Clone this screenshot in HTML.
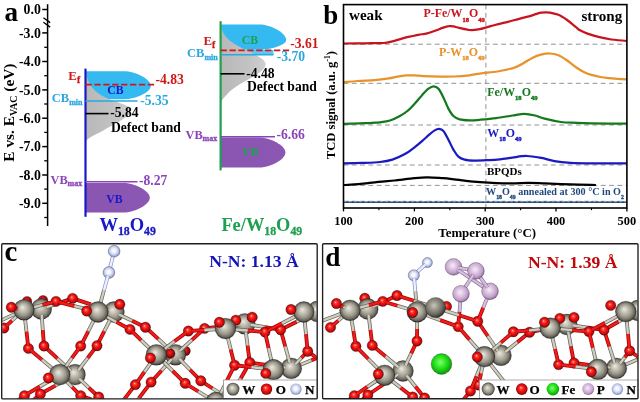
<!DOCTYPE html>
<html><head><meta charset="utf-8"><title>figure</title>
<style>
html,body{margin:0;padding:0;background:#fff;}
body{width:640px;height:402px;overflow:hidden;font-family:"Liberation Serif",serif;}
svg{display:block;filter:blur(0.35px);}
svg text{font-family:"Liberation Serif",serif;font-weight:bold;}
</style></head><body>
<svg width="640" height="402" viewBox="0 0 640 402">
<defs>
<radialGradient id="gW" cx="50%" cy="50%" r="52%" fx="42%" fy="38%"><stop offset="0" stop-color="#ecebe1"/><stop offset="0.28" stop-color="#c8c5b8"/><stop offset="0.6" stop-color="#9c998c"/><stop offset="0.84" stop-color="#67645c"/><stop offset="1" stop-color="#1f1d1a"/></radialGradient>
<radialGradient id="gWd" cx="42%" cy="40%" r="62%"><stop offset="0" stop-color="#c9c7be"/><stop offset="0.35" stop-color="#98958a"/><stop offset="0.7" stop-color="#6b685f"/><stop offset="1" stop-color="#2a2824"/></radialGradient>
<radialGradient id="gO" cx="50%" cy="50%" r="52%" fx="41%" fy="37%"><stop offset="0" stop-color="#ffd0c4"/><stop offset="0.18" stop-color="#ff5045"/><stop offset="0.5" stop-color="#f01212"/><stop offset="0.8" stop-color="#c20808"/><stop offset="1" stop-color="#5c0000"/></radialGradient>
<radialGradient id="gOd" cx="44%" cy="41%" r="60%"><stop offset="0" stop-color="#e03028"/><stop offset="0.5" stop-color="#c00c0c"/><stop offset="1" stop-color="#5a0000"/></radialGradient>
<radialGradient id="gN" cx="48%" cy="46%" r="56%"><stop offset="0" stop-color="#ffffff"/><stop offset="0.3" stop-color="#f2f4ff"/><stop offset="0.62" stop-color="#c6ceef"/><stop offset="0.88" stop-color="#929ccf"/><stop offset="1" stop-color="#6c76ae"/></radialGradient>
<radialGradient id="gP" cx="45%" cy="42%" r="60%"><stop offset="0" stop-color="#f6ecf7"/><stop offset="0.4" stop-color="#dcc2e2"/><stop offset="0.75" stop-color="#bf9cc8"/><stop offset="1" stop-color="#7c5f88"/></radialGradient>
<radialGradient id="gFe" cx="45%" cy="42%" r="62%"><stop offset="0" stop-color="#7dff6e"/><stop offset="0.5" stop-color="#22e018"/><stop offset="1" stop-color="#0a8a08"/></radialGradient>
<linearGradient id="gCB" x1="0" y1="0" x2="1" y2="0"><stop offset="0" stop-color="#34b9f0"/><stop offset="1" stop-color="#34b9f0"/></linearGradient>
<linearGradient id="gDef" x1="0" y1="0" x2="1" y2="0"><stop offset="0" stop-color="#b8b8b8"/><stop offset="0.6" stop-color="#c2c2c2"/><stop offset="1" stop-color="#d0d0d0"/></linearGradient>
<linearGradient id="gVB" x1="0" y1="0" x2="1" y2="0"><stop offset="0" stop-color="#8b55b2"/><stop offset="1" stop-color="#8c56b3"/></linearGradient>
<clipPath id="clipC"><rect x="2.2" y="244.2" width="314.5" height="154.2"/></clipPath>
<clipPath id="clipD"><rect x="323.1" y="244.2" width="314.4" height="154"/></clipPath>
</defs>
<text x="4.4" y="21.2" font-size="27.2" fill="#000" stroke="#000" stroke-width="0" text-anchor="start" >a</text>
<path d="M47.6,4.2 V226" stroke="#000" stroke-width="1.5" fill="none"/>
<path d="M43.4,17.7 L50.2,22.6 M43.4,22.2 L50.2,27.1" stroke="#000" stroke-width="1.3"/>
<path d="M42.2,9.5 H47.6" stroke="#000" stroke-width="1.5"/>
<text x="40.8" y="14.1" font-size="13.8" fill="#000" stroke="#000" stroke-width="0" text-anchor="end" >0.0</text>
<path d="M42.2,32.9 H47.6" stroke="#000" stroke-width="1.5"/>
<text x="40.8" y="37.5" font-size="13.8" fill="#000" stroke="#000" stroke-width="0" text-anchor="end" >-3.0</text>
<path d="M42.2,61.5 H47.6" stroke="#000" stroke-width="1.5"/>
<text x="40.8" y="66.1" font-size="13.8" fill="#000" stroke="#000" stroke-width="0" text-anchor="end" >-4.0</text>
<path d="M42.2,89.9 H47.6" stroke="#000" stroke-width="1.5"/>
<text x="40.8" y="94.5" font-size="13.8" fill="#000" stroke="#000" stroke-width="0" text-anchor="end" >-5.0</text>
<path d="M42.2,118.2 H47.6" stroke="#000" stroke-width="1.5"/>
<text x="40.8" y="122.8" font-size="13.8" fill="#000" stroke="#000" stroke-width="0" text-anchor="end" >-6.0</text>
<path d="M42.2,146.6 H47.6" stroke="#000" stroke-width="1.5"/>
<text x="40.8" y="151.2" font-size="13.8" fill="#000" stroke="#000" stroke-width="0" text-anchor="end" >-7.0</text>
<path d="M42.2,175.0 H47.6" stroke="#000" stroke-width="1.5"/>
<text x="40.8" y="179.6" font-size="13.8" fill="#000" stroke="#000" stroke-width="0" text-anchor="end" >-8.0</text>
<path d="M42.2,203.3 H47.6" stroke="#000" stroke-width="1.5"/>
<text x="40.8" y="207.9" font-size="13.8" fill="#000" stroke="#000" stroke-width="0" text-anchor="end" >-9.0</text>
<path d="M44.2,47.3 H47.6" stroke="#000" stroke-width="1.3"/>
<path d="M44.2,75.7 H47.6" stroke="#000" stroke-width="1.3"/>
<path d="M44.2,104.0 H47.6" stroke="#000" stroke-width="1.3"/>
<path d="M44.2,132.4 H47.6" stroke="#000" stroke-width="1.3"/>
<path d="M44.2,160.8 H47.6" stroke="#000" stroke-width="1.3"/>
<path d="M44.2,189.1 H47.6" stroke="#000" stroke-width="1.3"/>
<path d="M44.2,217.5 H47.6" stroke="#000" stroke-width="1.3"/>
<text transform="translate(13.8,112.6) rotate(-90)" font-size="15.4" text-anchor="middle" fill="#000">E vs. E<tspan font-size="10" dy="3" stroke-width="0.3">VAC</tspan><tspan dy="-3" font-size="10">&#8203;</tspan> (eV)</text>
<path d="M85.5,71.2 L124.0,71.2 C135.3,71.2 150.8,78.9 150.8,86.0 C150.8,92.4 135.3,99.2 124.0,99.2 L85.5,99.2 Z" fill="url(#gCB)"/>
<path d="M85.5,72 L86.1,72.0 L86.3,73.0 L86.4,74.0 L86.6,75.0 L86.8,76.0 L87.0,77.0 L87.3,78.0 L87.6,79.0 L88.0,80.0 L88.4,81.0 L88.8,82.0 L89.3,83.0 L89.9,84.0 L90.5,85.0 L91.1,86.0 L91.8,87.0 L92.6,88.0 L93.5,89.0 L94.4,90.0 L95.4,91.0 L96.6,92.0 L97.8,93.0 L99.2,94.0 L100.8,95.0 L102.5,96.0 L104.4,97.0 L106.6,98.0 L108.9,99.0 L111.5,100.0 L114.2,101.0 L117.0,102.0 L119.9,103.0 L122.6,104.0 L125.2,105.0 L127.4,106.0 L129.2,107.0 L130.5,108.0 L131.1,109.0 L131.2,110.0 L131.0,111.0 L130.6,112.0 L130.0,113.0 L129.3,114.0 L128.3,115.0 L127.3,116.0 L126.0,117.0 L124.7,118.0 L123.2,119.0 L121.6,120.0 L120.0,121.0 L118.2,122.0 L116.5,123.0 L114.7,124.0 L112.9,125.0 L111.0,126.0 L109.3,127.0 L107.5,128.0 L105.8,129.0 L104.1,130.0 L102.5,131.0 L100.8,132.0 L98.7,133.0 L96.6,134.0 L94.5,135.0 L92.6,136.0 L90.9,137.0 L89.3,138.0 L88.0,139.0 L86.9,140.0 L85.9,141.0 L85.5,142.0 L85.5,142 Z" fill="url(#gDef)"/>
<path d="M85.5,183.0 L123.4,183.0 C134.5,183.0 149.8,190.7 149.8,197.8 C149.8,204.9 134.5,212.6 123.4,212.6 L85.5,212.6 Z" fill="url(#gVB)"/>
<path d="M85.5,68.6 V216.8" stroke="#1818c8" stroke-width="2.2"/>
<path d="M85.5,84.6 H156" stroke="#d01818" stroke-width="1.8" stroke-dasharray="6.3,2.6"/>
<text x="155.5" y="83.6" font-size="13.6" fill="#d01818" stroke="#d01818" stroke-width="0" text-anchor="start" >-4.83</text>
<text x="68.3" y="80" font-size="12.9" fill="#d01818" stroke="#d01818" stroke-width="0" text-anchor="start" >E<tspan font-size="9.6" dy="2.8" stroke-width="0.3">f</tspan><tspan dy="-2.8" font-size="9.6">&#8203;</tspan></text>
<text x="107.3" y="94" font-size="11.7" fill="#1818c8" stroke="#1818c8" stroke-width="0" text-anchor="start" >CB</text>
<path d="M85.5,101 H137.5" stroke="#2aa8e0" stroke-width="1.6"/>
<text x="140.3" y="104.6" font-size="13.6" fill="#2aa8e0" stroke="#2aa8e0" stroke-width="0" text-anchor="start" >-5.35</text>
<text x="51.8" y="102.4" font-size="12.5" fill="#2aa8e0" stroke="#2aa8e0" stroke-width="0" text-anchor="start" >CB<tspan font-size="8" dy="2.5" stroke-width="0.3">min</tspan><tspan dy="-2.5" font-size="8">&#8203;</tspan></text>
<path d="M85.5,113.6 H108.5" stroke="#000" stroke-width="1.6"/>
<text x="110.3" y="117.3" font-size="13.6" fill="#000" stroke="#000" stroke-width="0" text-anchor="start" >-5.84</text>
<text x="111" y="131.7" font-size="13.6" fill="#000" stroke="#000" stroke-width="0" text-anchor="start" >Defect band</text>
<path d="M85.5,181.8 H137.5" stroke="#8a44b8" stroke-width="1.6"/>
<text x="139" y="185" font-size="13.6" fill="#8a44b8" stroke="#8a44b8" stroke-width="0" text-anchor="start" >-8.27</text>
<text x="50.5" y="183.6" font-size="12.3" fill="#8a44b8" stroke="#8a44b8" stroke-width="0" text-anchor="start" >VB<tspan font-size="8" dy="2.5" stroke-width="0.3">max</tspan><tspan dy="-2.5" font-size="8">&#8203;</tspan></text>
<text x="106.3" y="202.5" font-size="11.7" fill="#1818c8" stroke="#1818c8" stroke-width="0" text-anchor="start" >VB</text>
<text x="99.4" y="231" font-size="18.5" fill="#1818c8" stroke="#1818c8" stroke-width="0" text-anchor="start" >W<tspan font-size="11.8" dy="4" stroke-width="0.3">18</tspan><tspan dy="-4" font-size="11.8">&#8203;</tspan>O<tspan font-size="11.8" dy="4" stroke-width="0.3">49</tspan><tspan dy="-4" font-size="11.8">&#8203;</tspan></text>
<path d="M240,50 L273.5,50 L273.5,54.8 L240,54.8 Z" fill="#4cc0f2" opacity="0.9"/>
<path d="M220.6,24.6 L259.3,24.6 C270.6,24.6 286.2,32.7 286.2,40.2 C286.2,44.8 270.6,49.8 259.3,49.8 L220.6,49.8 Z" fill="url(#gCB)"/>
<path d="M220.6,22 L220.9,22.0 L221.0,23.0 L221.1,24.0 L221.2,25.0 L221.3,26.0 L221.5,27.0 L221.7,28.0 L221.9,29.0 L222.2,30.0 L222.6,31.0 L223.0,32.0 L223.4,33.0 L224.0,34.0 L224.6,35.0 L225.3,36.0 L226.1,37.0 L227.0,38.0 L228.0,39.0 L229.1,40.0 L230.3,41.0 L231.6,42.0 L233.1,43.0 L234.6,44.0 L236.3,45.0 L238.1,46.0 L239.9,47.0 L241.8,48.0 L243.8,49.0 L245.8,50.0 L247.9,51.0 L249.9,52.0 L252.0,53.0 L253.9,54.0 L255.8,55.0 L257.6,56.0 L259.3,57.0 L260.8,58.0 L262.2,59.0 L263.3,60.0 L264.2,61.0 L264.9,62.0 L265.4,63.0 L265.6,64.0 L265.6,65.0 L265.3,66.0 L264.9,67.0 L264.3,68.0 L263.5,69.0 L262.6,70.0 L261.5,71.0 L260.2,72.0 L258.9,73.0 L257.4,74.0 L255.8,75.0 L254.2,76.0 L252.5,77.0 L250.7,78.0 L249.0,79.0 L247.2,80.0 L245.4,81.0 L243.6,82.0 L241.9,83.0 L240.2,84.0 L238.6,85.0 L237.1,86.0 L235.6,87.0 L234.2,88.0 L232.8,89.0 L231.6,90.0 L230.4,91.0 L229.3,92.0 L228.3,93.0 L227.4,94.0 L226.5,95.0 L225.5,96.0 L224.5,97.0 L223.7,98.0 L222.9,99.0 L222.3,100.0 L221.7,101.0 L221.3,102.0 L220.9,103.0 L220.7,104.0 L220.6,104 Z" fill="url(#gDef)"/>
<path d="M220.6,137.6 L258.8,137.6 C270.0,137.6 285.4,145.4 285.4,152.6 C285.4,159.8 270.0,167.6 258.8,167.6 L220.6,167.6 Z" fill="url(#gVB)"/>
<path d="M220.6,21.2 V170.4" stroke="#1ea050" stroke-width="2.2"/>
<path d="M220.6,50.4 H291.5" stroke="#d01818" stroke-width="1.8" stroke-dasharray="6.3,2.6"/>
<text x="290.2" y="48.3" font-size="13.6" fill="#d01818" stroke="#d01818" stroke-width="0" text-anchor="start" >-3.61</text>
<text x="203.5" y="45" font-size="12.9" fill="#d01818" stroke="#d01818" stroke-width="0" text-anchor="start" >E<tspan font-size="9.6" dy="2.8" stroke-width="0.3">f</tspan><tspan dy="-2.8" font-size="9.6">&#8203;</tspan></text>
<text x="241.8" y="43.7" font-size="11.7" fill="#1ea050" stroke="#1ea050" stroke-width="0" text-anchor="start" >CB</text>
<path d="M220.6,54.8 H273.5" stroke="#2aa8e0" stroke-width="1.6"/>
<text x="276.7" y="60.6" font-size="13.6" fill="#2aa8e0" stroke="#2aa8e0" stroke-width="0" text-anchor="start" >-3.70</text>
<text x="187" y="57" font-size="12.5" fill="#2aa8e0" stroke="#2aa8e0" stroke-width="0" text-anchor="start" >CB<tspan font-size="8" dy="2.5" stroke-width="0.3">min</tspan><tspan dy="-2.5" font-size="8">&#8203;</tspan></text>
<path d="M220.6,73.8 H244.5" stroke="#000" stroke-width="1.6"/>
<text x="246.3" y="78.2" font-size="13.6" fill="#000" stroke="#000" stroke-width="0" text-anchor="start" >-4.48</text>
<text x="247" y="91.4" font-size="13.6" fill="#000" stroke="#000" stroke-width="0" text-anchor="start" >Defect band</text>
<path d="M220.6,136.7 H275" stroke="#8a44b8" stroke-width="1.6"/>
<text x="276.5" y="139.3" font-size="13.6" fill="#8a44b8" stroke="#8a44b8" stroke-width="0" text-anchor="start" >-6.66</text>
<text x="185.5" y="138.6" font-size="12.3" fill="#8a44b8" stroke="#8a44b8" stroke-width="0" text-anchor="start" >VB<tspan font-size="8" dy="2.5" stroke-width="0.3">max</tspan><tspan dy="-2.5" font-size="8">&#8203;</tspan></text>
<text x="242" y="156.4" font-size="11.7" fill="#1ea050" stroke="#1ea050" stroke-width="0" text-anchor="start" >VB</text>
<text x="221.4" y="231.2" font-size="18.4" fill="#1ea050" stroke="#1ea050" stroke-width="0" text-anchor="start" >Fe/W<tspan font-size="11.8" dy="4" stroke-width="0.3">18</tspan><tspan dy="-4" font-size="11.8">&#8203;</tspan>O<tspan font-size="11.8" dy="4" stroke-width="0.3">49</tspan><tspan dy="-4" font-size="11.8">&#8203;</tspan></text>
<text x="323.3" y="23.7" font-size="27" fill="#000" stroke="#000" stroke-width="0" text-anchor="start" >b</text>
<path d="M343.5,44.2 H626.9" stroke="#929292" stroke-width="1" stroke-dasharray="4.8,3.5"/>
<path d="M343.5,83.3 H626.9" stroke="#929292" stroke-width="1" stroke-dasharray="4.8,3.5"/>
<path d="M343.5,125.0 H626.9" stroke="#929292" stroke-width="1" stroke-dasharray="4.8,3.5"/>
<path d="M343.5,165.0 H626.9" stroke="#929292" stroke-width="1" stroke-dasharray="4.8,3.5"/>
<path d="M343.5,185.4 H626.9" stroke="#929292" stroke-width="1" stroke-dasharray="4.8,3.5"/>
<path d="M343.5,201.3 H626.9" stroke="#929292" stroke-width="1" stroke-dasharray="4.8,3.5"/>
<path d="M485.9,4.6 V208.0" stroke="#929292" stroke-width="1" stroke-dasharray="4.8,3.5"/>
<path d="M343.5,202.1 H626.9" stroke="#1f497d" stroke-width="1.9" fill="none"/>
<path transform="translate(0,0.6)" d="M343.5,184.4 C346.1,184.2 353.0,184.0 358.8,183.5 C364.6,183.0 372.4,181.8 378.3,181.2 C384.2,180.6 389.0,180.4 394.4,179.9 C399.8,179.4 405.2,178.5 410.6,178.0 C416.0,177.5 421.4,176.8 426.8,176.7 C432.2,176.6 437.6,177.2 443.0,177.6 C448.4,178.0 453.0,178.7 459.2,179.3 C465.4,180.0 473.8,181.0 480.0,181.5 C486.2,182.0 490.8,182.3 496.2,182.5 C501.6,182.7 507.0,182.9 512.4,182.8 C517.8,182.8 523.1,182.2 528.5,182.2 C533.9,182.2 537.7,182.5 544.7,182.8 C551.7,183.1 562.1,183.5 570.6,183.8 C579.1,184.1 591.7,184.3 595.9,184.4" stroke="#000" stroke-width="2.25" fill="none"/>
<path d="M343.5,163.4 C346.6,163.3 355.9,163.1 362.0,162.9 C368.1,162.7 374.9,162.6 380.0,162.0 C385.1,161.4 388.2,160.9 392.4,159.6 C396.5,158.3 401.2,156.2 404.9,154.1 C408.6,152.0 411.9,149.3 414.8,147.1 C417.7,144.9 419.8,143.1 422.3,140.9 C424.8,138.8 427.7,135.9 429.8,134.2 C431.9,132.4 433.2,131.3 434.7,130.4 C436.2,129.5 437.6,128.8 439.0,128.9 C440.4,129.0 441.8,129.2 443.4,131.0 C445.0,132.8 446.7,136.6 448.4,139.7 C450.1,142.8 451.7,146.8 453.4,149.6 C455.1,152.4 456.5,154.9 458.4,156.6 C460.3,158.3 461.9,158.9 464.6,159.6 C467.3,160.3 470.4,160.5 474.5,160.6 C478.6,160.7 485.2,160.3 489.5,160.1 C493.8,159.9 496.2,159.7 500.0,159.3 C503.8,158.9 507.9,158.2 512.4,157.6 C516.9,157.0 522.0,155.9 526.9,156.0 C531.8,156.1 536.9,157.1 541.5,157.9 C546.1,158.8 549.5,160.3 554.4,161.1 C559.2,161.9 564.1,162.4 570.6,162.8 C577.1,163.2 583.9,163.3 593.3,163.4 C602.7,163.5 621.3,163.4 626.9,163.4" stroke="#1a1ac0" stroke-width="2.25" fill="none"/>
<path d="M343.5,123.9 C346.2,123.8 355.2,123.5 360.0,123.3 C364.8,123.1 368.7,123.0 372.0,122.8 C375.3,122.6 377.0,122.7 380.0,122.3 C383.0,121.9 386.7,121.5 390.0,120.5 C393.3,119.5 397.0,117.6 399.9,116.0 C402.8,114.4 404.9,113.1 407.4,111.0 C409.9,108.9 412.3,106.3 414.8,103.6 C417.3,100.9 420.0,97.4 422.3,94.9 C424.6,92.4 426.6,90.1 428.5,88.7 C430.4,87.3 431.8,86.3 433.5,86.3 C435.2,86.3 436.9,86.8 438.5,88.7 C440.1,90.6 441.8,94.1 443.4,97.4 C445.0,100.7 446.7,105.5 448.4,108.6 C450.1,111.7 451.5,114.2 453.4,116.0 C455.3,117.8 456.9,118.6 459.6,119.3 C462.3,120.0 466.3,120.2 469.6,120.3 C472.9,120.4 475.1,120.2 479.5,119.8 C483.9,119.4 490.7,118.8 496.2,118.1 C501.7,117.4 507.7,116.2 512.4,115.5 C517.1,114.8 520.5,113.9 524.3,113.9 C528.1,113.9 531.6,114.7 535.0,115.5 C538.4,116.3 540.4,117.6 544.7,118.7 C549.0,119.8 555.5,121.3 560.9,122.0 C566.3,122.7 568.9,122.6 577.0,122.9 C585.1,123.2 601.1,123.5 609.4,123.6 C617.7,123.7 624.0,123.6 626.9,123.6" stroke="#14781e" stroke-width="2.25" fill="none"/>
<path d="M343.5,82.3 C345.8,82.1 352.2,81.4 357.4,81.0 C362.6,80.6 369.6,80.5 374.8,80.1 C380.0,79.7 385.0,79.0 388.8,78.4 C392.6,77.8 394.6,77.1 397.5,76.6 C400.4,76.1 403.4,75.6 406.2,75.4 C408.9,75.2 411.1,75.3 414.0,75.4 C416.9,75.5 419.3,75.9 423.6,76.1 C427.9,76.3 434.9,76.5 440.0,76.6 C445.1,76.7 449.4,76.7 454.3,76.5 C459.2,76.3 465.0,75.8 469.3,75.3 C473.6,74.8 475.3,74.2 480.0,73.6 C484.7,73.0 493.1,72.1 497.4,71.5 C501.7,70.9 503.1,70.5 506.0,69.8 C508.9,69.1 511.9,68.6 514.8,67.5 C517.7,66.4 520.7,64.7 523.6,63.1 C526.5,61.5 529.4,59.3 532.3,57.9 C535.2,56.5 538.1,55.4 541.0,54.7 C543.9,54.0 546.8,53.4 549.7,53.5 C552.6,53.6 555.5,54.1 558.4,55.3 C561.3,56.5 564.2,58.5 567.1,60.5 C570.0,62.5 573.1,65.2 576.0,67.2 C578.9,69.2 581.6,71.0 584.3,72.3 C587.0,73.6 589.6,74.4 592.3,75.2 C595.0,76.0 597.7,76.5 600.4,77.0 C603.1,77.5 605.7,77.8 608.5,78.1 C611.3,78.4 614.2,78.6 617.3,78.8 C620.4,79.0 625.3,79.3 626.9,79.4" stroke="#e8922a" stroke-width="2.25" fill="none"/>
<path d="M343.5,43.5 C347.1,43.5 358.1,43.4 364.8,43.3 C371.5,43.2 379.0,43.3 383.6,43.0 C388.2,42.7 389.4,42.0 392.3,41.3 C395.2,40.6 398.1,39.6 401.0,38.8 C403.9,38.0 406.8,37.2 409.7,36.6 C412.6,36.0 415.5,35.5 418.4,34.9 C421.3,34.3 424.2,34.0 427.1,33.3 C430.0,32.6 433.2,31.4 435.8,30.5 C438.4,29.6 440.2,28.6 442.4,27.9 C444.6,27.2 446.9,26.4 448.8,26.2 C450.7,25.9 451.8,26.1 453.5,26.4 C455.2,26.7 456.5,27.3 459.2,27.9 C461.9,28.5 466.5,29.8 469.7,30.0 C472.9,30.2 474.9,30.0 478.4,29.4 C481.9,28.8 487.4,27.0 490.6,26.2 C493.8,25.4 494.8,25.0 497.4,24.4 C500.0,23.8 503.1,23.0 506.0,22.3 C508.9,21.6 511.9,20.8 514.8,20.0 C517.7,19.2 520.7,18.5 523.6,17.7 C526.5,16.9 529.9,16.0 532.3,15.3 C534.7,14.6 536.5,13.9 538.0,13.4 C539.5,12.9 540.2,12.8 541.5,12.6 C542.8,12.4 544.6,12.3 546.0,12.3 C547.4,12.3 547.9,12.3 550.0,12.7 C552.1,13.1 555.5,13.6 558.4,14.8 C561.2,16.0 564.2,18.0 567.1,20.0 C570.0,22.0 573.6,25.3 575.8,27.0 C577.9,28.7 578.0,29.1 580.0,30.2 C582.0,31.3 584.3,32.4 587.5,33.6 C590.7,34.8 595.4,36.2 599.4,37.2 C603.4,38.2 606.7,38.9 611.3,39.5 C615.9,40.1 624.3,40.8 626.9,41.0" stroke="#c8141e" stroke-width="2.25" fill="none"/>
<path d="M343.5,201.7 H626.9" stroke="#c4ccd8" stroke-width="0.7" stroke-dasharray="3,2.2"/>
<rect x="343.5" y="4.6" width="283.4" height="203.4" fill="none" stroke="#000" stroke-width="1.6"/>
<path d="M343.5,208.0 v3.4" stroke="#000" stroke-width="1.3"/>
<text x="343.5" y="224.7" font-size="12.4" fill="#000" stroke="#000" stroke-width="0" text-anchor="middle" >100</text>
<path d="M414.4,208.0 v3.4" stroke="#000" stroke-width="1.3"/>
<text x="414.4" y="224.7" font-size="12.4" fill="#000" stroke="#000" stroke-width="0" text-anchor="middle" >200</text>
<path d="M485.2,208.0 v3.4" stroke="#000" stroke-width="1.3"/>
<text x="485.2" y="224.7" font-size="12.4" fill="#000" stroke="#000" stroke-width="0" text-anchor="middle" >300</text>
<path d="M556.0,208.0 v3.4" stroke="#000" stroke-width="1.3"/>
<text x="556.0" y="224.7" font-size="12.4" fill="#000" stroke="#000" stroke-width="0" text-anchor="middle" >400</text>
<path d="M626.9,208.0 v3.4" stroke="#000" stroke-width="1.3"/>
<text x="626.9" y="224.7" font-size="12.4" fill="#000" stroke="#000" stroke-width="0" text-anchor="middle" >500</text>
<path d="M378.9,208.0 v2.2" stroke="#000" stroke-width="1.1"/>
<path d="M449.8,208.0 v2.2" stroke="#000" stroke-width="1.1"/>
<path d="M520.6,208.0 v2.2" stroke="#000" stroke-width="1.1"/>
<path d="M591.5,208.0 v2.2" stroke="#000" stroke-width="1.1"/>
<text x="487.2" y="237.3" font-size="12.9" fill="#000" stroke="#000" stroke-width="0" text-anchor="middle" >Temperature (&#176;C)</text>
<text transform="translate(334.8,105.2) rotate(-90)" font-size="12.6" text-anchor="middle" fill="#000">TCD signal (a.u. g<tspan font-size="7.5" dy="-5" stroke-width="0.3">-1</tspan><tspan dy="5" font-size="7.5">&#8203;</tspan>)</text>
<text x="349" y="20.2" font-size="15.1" fill="#000" stroke="#000" stroke-width="0" text-anchor="start" >weak</text>
<text x="622.3" y="20.5" font-size="15.1" fill="#000" stroke="#000" stroke-width="0" text-anchor="end" >strong</text>
<text x="423.5" y="17.0" font-size="11.9" fill="#c8141e" stroke="#c8141e" stroke-width="0" text-anchor="start" >P-Fe/W<tspan font-size="6.6" dy="4.6" stroke-width="0.4">18</tspan><tspan dy="-4.6" font-size="6.6">&#8203;</tspan>O<tspan font-size="6.6" dy="4.6" stroke-width="0.4">49</tspan><tspan dy="-4.6" font-size="6.6">&#8203;</tspan></text>
<text x="439" y="55.6" font-size="11.9" fill="#e8922a" stroke="#e8922a" stroke-width="0" text-anchor="start" >P-W<tspan font-size="6.6" dy="4.6" stroke-width="0.4">18</tspan><tspan dy="-4.6" font-size="6.6">&#8203;</tspan>O<tspan font-size="6.6" dy="4.6" stroke-width="0.4">49</tspan><tspan dy="-4.6" font-size="6.6">&#8203;</tspan></text>
<text x="487.3" y="95.6" font-size="11.9" fill="#14781e" stroke="#14781e" stroke-width="0" text-anchor="start" >Fe/W<tspan font-size="6.6" dy="4.6" stroke-width="0.4">18</tspan><tspan dy="-4.6" font-size="6.6">&#8203;</tspan>O<tspan font-size="6.6" dy="4.6" stroke-width="0.4">49</tspan><tspan dy="-4.6" font-size="6.6">&#8203;</tspan></text>
<text x="487.3" y="136.6" font-size="11.9" fill="#1a1ac0" stroke="#1a1ac0" stroke-width="0" text-anchor="start" >W<tspan font-size="6.6" dy="4.6" stroke-width="0.4">18</tspan><tspan dy="-4.6" font-size="6.6">&#8203;</tspan>O<tspan font-size="6.6" dy="4.6" stroke-width="0.4">49</tspan><tspan dy="-4.6" font-size="6.6">&#8203;</tspan></text>
<text x="487" y="175.4" font-size="11.0" fill="#000" stroke="#000" stroke-width="0" text-anchor="start" >BPQDs</text>
<text x="486" y="195.2" font-size="10.15" fill="#1f497d" stroke="#1f497d" stroke-width="0" text-anchor="start" >W<tspan font-size="5.8" dy="3.8" stroke-width="0.35">18</tspan><tspan dy="-3.8" font-size="5.8">&#8203;</tspan>O<tspan font-size="5.8" dy="3.8" stroke-width="0.35">49</tspan><tspan dy="-3.8" font-size="5.8">&#8203;</tspan> annealed at 300 &#176;C in O<tspan font-size="5.8" dy="3.8" stroke-width="0.35">2</tspan><tspan dy="-3.8" font-size="5.8">&#8203;</tspan></text>
<g clip-path="url(#clipC)">
<circle cx="43" cy="300.2" r="4.8" fill="url(#gOd)" stroke="#1a1815" stroke-opacity="0.45" stroke-width="0.6"/>
<g fill="none" stroke-linecap="butt"><path d="M291.3,368.4 L311.5,360.3" stroke="#6a665c" stroke-width="3.8"/><path d="M311.5,360.3 L322.0,356.0" stroke="#9c0606" stroke-width="3.8"/><path d="M291.3,368.4 L311.5,360.3" stroke="#cfccc0" stroke-width="2.3"/><path d="M311.5,360.3 L322.0,356.0" stroke="#f41a1a" stroke-width="2.3"/></g>
<circle cx="185.6" cy="351" r="4.8" fill="url(#gOd)" stroke="#1a1815" stroke-opacity="0.45" stroke-width="0.6"/>
<circle cx="27" cy="301.2" r="4.8" fill="url(#gOd)" stroke="#1a1815" stroke-opacity="0.45" stroke-width="0.6"/>
<g fill="none" stroke-linecap="butt"><path d="M24.5,395.6 L12.7,404.3" stroke="#9c0606" stroke-width="3.8"/><path d="M12.7,404.3 L5.0,410.0" stroke="#6a665c" stroke-width="3.8"/><path d="M24.5,395.6 L12.7,404.3" stroke="#f41a1a" stroke-width="2.3"/><path d="M12.7,404.3 L5.0,410.0" stroke="#cfccc0" stroke-width="2.3"/></g>
<g fill="none" stroke-linecap="butt"><path d="M40.4,394.0 L29.2,403.7" stroke="#9c0606" stroke-width="3.8"/><path d="M29.2,403.7 L22.0,410.0" stroke="#6a665c" stroke-width="3.8"/><path d="M40.4,394.0 L29.2,403.7" stroke="#f41a1a" stroke-width="2.3"/><path d="M29.2,403.7 L22.0,410.0" stroke="#cfccc0" stroke-width="2.3"/></g>
<g fill="none" stroke-linecap="butt"><path d="M80.7,395.6 L102.8,403.7" stroke="#9c0606" stroke-width="3.8"/><path d="M102.8,403.7 L120.0,410.0" stroke="#6a665c" stroke-width="3.8"/><path d="M80.7,395.6 L102.8,403.7" stroke="#f41a1a" stroke-width="2.3"/><path d="M102.8,403.7 L120.0,410.0" stroke="#cfccc0" stroke-width="2.3"/></g>
<g fill="none" stroke-linecap="butt"><path d="M98.7,397.0 L111.6,404.9" stroke="#9c0606" stroke-width="3.8"/><path d="M111.6,404.9 L120.0,410.0" stroke="#6a665c" stroke-width="3.8"/><path d="M98.7,397.0 L111.6,404.9" stroke="#f41a1a" stroke-width="2.3"/><path d="M111.6,404.9 L120.0,410.0" stroke="#cfccc0" stroke-width="2.3"/></g>
<g fill="none" stroke-linecap="butt"><path d="M135.4,384.6 L124.1,399.4" stroke="#9c0606" stroke-width="3.8"/><path d="M124.1,399.4 L116.0,410.0" stroke="#6a665c" stroke-width="3.8"/><path d="M135.4,384.6 L124.1,399.4" stroke="#f41a1a" stroke-width="2.3"/><path d="M124.1,399.4 L116.0,410.0" stroke="#cfccc0" stroke-width="2.3"/></g>
<g fill="none" stroke-linecap="butt"><path d="M151.1,382.1 L139.0,398.1" stroke="#9c0606" stroke-width="3.8"/><path d="M139.0,398.1 L130.0,410.0" stroke="#6a665c" stroke-width="3.8"/><path d="M151.1,382.1 L139.0,398.1" stroke="#f41a1a" stroke-width="2.3"/><path d="M139.0,398.1 L130.0,410.0" stroke="#cfccc0" stroke-width="2.3"/></g>
<g fill="none" stroke-linecap="butt"><path d="M307.7,351.3 L323.9,363.2" stroke="#9c0606" stroke-width="3.8"/><path d="M323.9,363.2 L336.0,372.0" stroke="#6a665c" stroke-width="3.8"/><path d="M307.7,351.3 L323.9,363.2" stroke="#f41a1a" stroke-width="2.3"/><path d="M323.9,363.2 L336.0,372.0" stroke="#cfccc0" stroke-width="2.3"/></g>
<circle cx="41.3" cy="309" r="10.4" fill="url(#gW)" stroke="#1a1815" stroke-opacity="0.45" stroke-width="0.6"/>
<circle cx="114" cy="312" r="10.4" fill="url(#gW)" stroke="#1a1815" stroke-opacity="0.45" stroke-width="0.6"/>
<circle cx="75" cy="374.7" r="10.4" fill="url(#gW)" stroke="#1a1815" stroke-opacity="0.45" stroke-width="0.6"/>
<circle cx="175.5" cy="354.8" r="10.4" fill="url(#gW)" stroke="#1a1815" stroke-opacity="0.45" stroke-width="0.6"/>
<circle cx="244.8" cy="323.8" r="10.4" fill="url(#gW)" stroke="#1a1815" stroke-opacity="0.45" stroke-width="0.6"/>
<circle cx="291.3" cy="368.4" r="10.4" fill="url(#gW)" stroke="#1a1815" stroke-opacity="0.45" stroke-width="0.6"/>
<circle cx="317.5" cy="311.5" r="10.4" fill="url(#gW)" stroke="#1a1815" stroke-opacity="0.45" stroke-width="0.6"/>
<circle cx="229" cy="399" r="10.4" fill="url(#gW)" stroke="#1a1815" stroke-opacity="0.45" stroke-width="0.6"/>
<g fill="none" stroke-linecap="butt"><path d="M46.7,307.2 L59.4,302.9" stroke="#6a665c" stroke-width="3.8"/><path d="M59.4,302.9 L72.6,298.4" stroke="#9c0606" stroke-width="3.8"/><path d="M46.7,307.2 L59.4,302.9" stroke="#cfccc0" stroke-width="2.3"/><path d="M59.4,302.9 L72.6,298.4" stroke="#f41a1a" stroke-width="2.3"/></g>
<g fill="none" stroke-linecap="butt"><path d="M72.6,298.4 L90.8,304.4" stroke="#9c0606" stroke-width="3.8"/><path d="M90.8,304.4 L108.6,310.2" stroke="#6a665c" stroke-width="3.8"/><path d="M72.6,298.4 L90.8,304.4" stroke="#f41a1a" stroke-width="2.3"/><path d="M90.8,304.4 L108.6,310.2" stroke="#cfccc0" stroke-width="2.3"/></g>
<g fill="none" stroke-linecap="butt"><path d="M41.7,314.7 L42.8,330.1" stroke="#6a665c" stroke-width="3.8"/><path d="M42.8,330.1 L44.0,346.0" stroke="#9c0606" stroke-width="3.8"/><path d="M41.7,314.7 L42.8,330.1" stroke="#cfccc0" stroke-width="2.3"/><path d="M42.8,330.1 L44.0,346.0" stroke="#f41a1a" stroke-width="2.3"/></g>
<g fill="none" stroke-linecap="butt"><path d="M44.0,346.0 L57.6,358.6" stroke="#9c0606" stroke-width="3.8"/><path d="M57.6,358.6 L70.8,370.8" stroke="#6a665c" stroke-width="3.8"/><path d="M44.0,346.0 L57.6,358.6" stroke="#f41a1a" stroke-width="2.3"/><path d="M57.6,358.6 L70.8,370.8" stroke="#cfccc0" stroke-width="2.3"/></g>
<g fill="none" stroke-linecap="butt"><path d="M111.4,317.1 L104.3,331.2" stroke="#6a665c" stroke-width="3.8"/><path d="M104.3,331.2 L97.0,345.7" stroke="#9c0606" stroke-width="3.8"/><path d="M111.4,317.1 L104.3,331.2" stroke="#cfccc0" stroke-width="2.3"/><path d="M104.3,331.2 L97.0,345.7" stroke="#f41a1a" stroke-width="2.3"/></g>
<g fill="none" stroke-linecap="butt"><path d="M97.0,345.7 L87.6,358.1" stroke="#9c0606" stroke-width="3.8"/><path d="M87.6,358.1 L78.5,370.1" stroke="#6a665c" stroke-width="3.8"/><path d="M97.0,345.7 L87.6,358.1" stroke="#f41a1a" stroke-width="2.3"/><path d="M87.6,358.1 L78.5,370.1" stroke="#cfccc0" stroke-width="2.3"/></g>
<g fill="none" stroke-linecap="butt"><path d="M117.4,307.4 L116.9,308.2" stroke="#6a665c" stroke-width="3.8"/><path d="M116.9,308.2 L119.8,304.3" stroke="#9c0606" stroke-width="3.8"/><path d="M117.4,307.4 L116.9,308.2" stroke="#cfccc0" stroke-width="2.3"/><path d="M116.9,308.2 L119.8,304.3" stroke="#f41a1a" stroke-width="2.3"/></g>
<g fill="none" stroke-linecap="butt"><path d="M119.1,314.5 L132.0,320.7" stroke="#6a665c" stroke-width="3.8"/><path d="M132.0,320.7 L145.4,327.2" stroke="#9c0606" stroke-width="3.8"/><path d="M119.1,314.5 L132.0,320.7" stroke="#cfccc0" stroke-width="2.3"/><path d="M132.0,320.7 L145.4,327.2" stroke="#f41a1a" stroke-width="2.3"/></g>
<g fill="none" stroke-linecap="butt"><path d="M145.4,327.2 L158.5,339.2" stroke="#9c0606" stroke-width="3.8"/><path d="M158.5,339.2 L171.3,350.9" stroke="#6a665c" stroke-width="3.8"/><path d="M145.4,327.2 L158.5,339.2" stroke="#f41a1a" stroke-width="2.3"/><path d="M158.5,339.2 L171.3,350.9" stroke="#cfccc0" stroke-width="2.3"/></g>
<g fill="none" stroke-linecap="butt"><path d="M179.7,351.0 L192.0,339.9" stroke="#6a665c" stroke-width="3.8"/><path d="M192.0,339.9 L204.6,328.4" stroke="#9c0606" stroke-width="3.8"/><path d="M179.7,351.0 L192.0,339.9" stroke="#cfccc0" stroke-width="2.3"/><path d="M192.0,339.9 L204.6,328.4" stroke="#f41a1a" stroke-width="2.3"/></g>
<g fill="none" stroke-linecap="butt"><path d="M204.6,328.4 L222.1,326.4" stroke="#9c0606" stroke-width="3.8"/><path d="M222.1,326.4 L239.1,324.5" stroke="#6a665c" stroke-width="3.8"/><path d="M204.6,328.4 L222.1,326.4" stroke="#f41a1a" stroke-width="2.3"/><path d="M222.1,326.4 L239.1,324.5" stroke="#cfccc0" stroke-width="2.3"/></g>
<g fill="none" stroke-linecap="butt"><path d="M70.0,377.5 L55.4,385.6" stroke="#6a665c" stroke-width="3.8"/><path d="M55.4,385.6 L40.4,394.0" stroke="#9c0606" stroke-width="3.8"/><path d="M70.0,377.5 L55.4,385.6" stroke="#cfccc0" stroke-width="2.3"/><path d="M55.4,385.6 L40.4,394.0" stroke="#f41a1a" stroke-width="2.3"/></g>
<g fill="none" stroke-linecap="butt"><path d="M79.2,378.6 L88.7,387.6" stroke="#6a665c" stroke-width="3.8"/><path d="M88.7,387.6 L98.7,397.0" stroke="#9c0606" stroke-width="3.8"/><path d="M79.2,378.6 L88.7,387.6" stroke="#cfccc0" stroke-width="2.3"/><path d="M88.7,387.6 L98.7,397.0" stroke="#f41a1a" stroke-width="2.3"/></g>
<g fill="none" stroke-linecap="butt"><path d="M171.7,359.1 L161.6,370.4" stroke="#6a665c" stroke-width="3.8"/><path d="M161.6,370.4 L151.1,382.1" stroke="#9c0606" stroke-width="3.8"/><path d="M171.7,359.1 L161.6,370.4" stroke="#cfccc0" stroke-width="2.3"/><path d="M161.6,370.4 L151.1,382.1" stroke="#f41a1a" stroke-width="2.3"/></g>
<g fill="none" stroke-linecap="butt"><path d="M179.5,358.9 L190.0,369.7" stroke="#6a665c" stroke-width="3.8"/><path d="M190.0,369.7 L200.8,380.8" stroke="#9c0606" stroke-width="3.8"/><path d="M179.5,358.9 L190.0,369.7" stroke="#cfccc0" stroke-width="2.3"/><path d="M190.0,369.7 L200.8,380.8" stroke="#f41a1a" stroke-width="2.3"/></g>
<g fill="none" stroke-linecap="butt"><path d="M200.8,380.8 L212.7,388.5" stroke="#9c0606" stroke-width="3.8"/><path d="M212.7,388.5 L224.2,395.9" stroke="#6a665c" stroke-width="3.8"/><path d="M200.8,380.8 L212.7,388.5" stroke="#f41a1a" stroke-width="2.3"/><path d="M212.7,388.5 L224.2,395.9" stroke="#cfccc0" stroke-width="2.3"/></g>
<g fill="none" stroke-linecap="butt"><path d="M245.5,329.5 L247.6,345.7" stroke="#6a665c" stroke-width="3.8"/><path d="M247.6,345.7 L249.8,362.5" stroke="#9c0606" stroke-width="3.8"/><path d="M245.5,329.5 L247.6,345.7" stroke="#cfccc0" stroke-width="2.3"/><path d="M247.6,345.7 L249.8,362.5" stroke="#f41a1a" stroke-width="2.3"/></g>
<g fill="none" stroke-linecap="butt"><path d="M249.8,362.5 L268.0,365.1" stroke="#9c0606" stroke-width="3.8"/><path d="M268.0,365.1 L285.6,367.6" stroke="#6a665c" stroke-width="3.8"/><path d="M249.8,362.5 L268.0,365.1" stroke="#f41a1a" stroke-width="2.3"/><path d="M268.0,365.1 L285.6,367.6" stroke="#cfccc0" stroke-width="2.3"/></g>
<g fill="none" stroke-linecap="butt"><path d="M250.4,324.7 L265.3,327.2" stroke="#6a665c" stroke-width="3.8"/><path d="M265.3,327.2 L280.6,329.8" stroke="#9c0606" stroke-width="3.8"/><path d="M250.4,324.7 L265.3,327.2" stroke="#cfccc0" stroke-width="2.3"/><path d="M265.3,327.2 L280.6,329.8" stroke="#f41a1a" stroke-width="2.3"/></g>
<g fill="none" stroke-linecap="butt"><path d="M280.6,329.8 L296.7,321.8" stroke="#9c0606" stroke-width="3.8"/><path d="M296.7,321.8 L312.4,314.0" stroke="#6a665c" stroke-width="3.8"/><path d="M280.6,329.8 L296.7,321.8" stroke="#f41a1a" stroke-width="2.3"/><path d="M296.7,321.8 L312.4,314.0" stroke="#cfccc0" stroke-width="2.3"/></g>
<g fill="none" stroke-linecap="butt"><path d="M280.6,329.8 L285.3,346.6" stroke="#9c0606" stroke-width="3.8"/><path d="M285.3,346.6 L289.8,362.9" stroke="#6a665c" stroke-width="3.8"/><path d="M280.6,329.8 L285.3,346.6" stroke="#f41a1a" stroke-width="2.3"/><path d="M285.3,346.6 L289.8,362.9" stroke="#cfccc0" stroke-width="2.3"/></g>
<g fill="none" stroke-linecap="butt"><path d="M307.7,351.3 L301.3,358.0" stroke="#9c0606" stroke-width="3.8"/><path d="M301.3,358.0 L295.3,364.3" stroke="#6a665c" stroke-width="3.8"/><path d="M307.7,351.3 L301.3,358.0" stroke="#f41a1a" stroke-width="2.3"/><path d="M301.3,358.0 L295.3,364.3" stroke="#cfccc0" stroke-width="2.3"/></g>
<g fill="none" stroke-linecap="butt"><path d="M249.8,362.5 L240.7,378.5" stroke="#9c0606" stroke-width="3.8"/><path d="M240.7,378.5 L231.8,394.0" stroke="#6a665c" stroke-width="3.8"/><path d="M249.8,362.5 L240.7,378.5" stroke="#f41a1a" stroke-width="2.3"/><path d="M240.7,378.5 L231.8,394.0" stroke="#cfccc0" stroke-width="2.3"/></g>
<g fill="none" stroke-linecap="butt"><path d="M249.1,320.0 L248.5,320.5" stroke="#6a665c" stroke-width="3.8"/><path d="M248.5,320.5 L252.2,317.2" stroke="#9c0606" stroke-width="3.8"/><path d="M249.1,320.0 L248.5,320.5" stroke="#cfccc0" stroke-width="2.3"/><path d="M248.5,320.5 L252.2,317.2" stroke="#f41a1a" stroke-width="2.3"/></g>
<g fill="none" stroke-linecap="butt"><path d="M109.7,269.3 L111.5,261.9" stroke="#8a94c8" stroke-width="3.8"/><path d="M111.5,261.9 L114.1,251.2" stroke="#8a94c8" stroke-width="3.8"/><path d="M109.7,269.3 L111.5,261.9" stroke="#eef1ff" stroke-width="2.3"/><path d="M111.5,261.9 L114.1,251.2" stroke="#eef1ff" stroke-width="2.3"/></g>
<circle cx="3.9" cy="328" r="5.2" fill="url(#gO)" stroke="#1a1815" stroke-opacity="0.45" stroke-width="0.6"/>
<circle cx="56" cy="301.4" r="5.2" fill="url(#gO)" stroke="#1a1815" stroke-opacity="0.45" stroke-width="0.6"/>
<circle cx="72.6" cy="298.4" r="5.2" fill="url(#gO)" stroke="#1a1815" stroke-opacity="0.45" stroke-width="0.6"/>
<circle cx="119.8" cy="304.3" r="5.2" fill="url(#gO)" stroke="#1a1815" stroke-opacity="0.45" stroke-width="0.6"/>
<circle cx="28.4" cy="348.4" r="5.2" fill="url(#gO)" stroke="#1a1815" stroke-opacity="0.45" stroke-width="0.6"/>
<circle cx="44" cy="346" r="5.2" fill="url(#gO)" stroke="#1a1815" stroke-opacity="0.45" stroke-width="0.6"/>
<circle cx="80.7" cy="346" r="5.2" fill="url(#gO)" stroke="#1a1815" stroke-opacity="0.45" stroke-width="0.6"/>
<circle cx="97" cy="345.7" r="5.2" fill="url(#gO)" stroke="#1a1815" stroke-opacity="0.45" stroke-width="0.6"/>
<circle cx="24.5" cy="395.6" r="5.2" fill="url(#gO)" stroke="#1a1815" stroke-opacity="0.45" stroke-width="0.6"/>
<circle cx="40.4" cy="394" r="5.2" fill="url(#gO)" stroke="#1a1815" stroke-opacity="0.45" stroke-width="0.6"/>
<circle cx="80.7" cy="395.6" r="5.2" fill="url(#gO)" stroke="#1a1815" stroke-opacity="0.45" stroke-width="0.6"/>
<circle cx="98.7" cy="397" r="5.2" fill="url(#gO)" stroke="#1a1815" stroke-opacity="0.45" stroke-width="0.6"/>
<circle cx="130" cy="329.4" r="5.2" fill="url(#gO)" stroke="#1a1815" stroke-opacity="0.45" stroke-width="0.6"/>
<circle cx="145.4" cy="327.2" r="5.2" fill="url(#gO)" stroke="#1a1815" stroke-opacity="0.45" stroke-width="0.6"/>
<circle cx="188.4" cy="331" r="5.2" fill="url(#gO)" stroke="#1a1815" stroke-opacity="0.45" stroke-width="0.6"/>
<circle cx="204.6" cy="328.4" r="5.2" fill="url(#gO)" stroke="#1a1815" stroke-opacity="0.45" stroke-width="0.6"/>
<circle cx="135.4" cy="384.6" r="5.2" fill="url(#gO)" stroke="#1a1815" stroke-opacity="0.45" stroke-width="0.6"/>
<circle cx="151.1" cy="382.1" r="5.2" fill="url(#gO)" stroke="#1a1815" stroke-opacity="0.45" stroke-width="0.6"/>
<circle cx="185.2" cy="383.3" r="5.2" fill="url(#gO)" stroke="#1a1815" stroke-opacity="0.45" stroke-width="0.6"/>
<circle cx="200.8" cy="380.8" r="5.2" fill="url(#gO)" stroke="#1a1815" stroke-opacity="0.45" stroke-width="0.6"/>
<circle cx="235.8" cy="320.2" r="5.2" fill="url(#gO)" stroke="#1a1815" stroke-opacity="0.45" stroke-width="0.6"/>
<circle cx="252.2" cy="317.2" r="5.2" fill="url(#gO)" stroke="#1a1815" stroke-opacity="0.45" stroke-width="0.6"/>
<circle cx="265" cy="332" r="5.2" fill="url(#gO)" stroke="#1a1815" stroke-opacity="0.45" stroke-width="0.6"/>
<circle cx="280.6" cy="329.8" r="5.2" fill="url(#gO)" stroke="#1a1815" stroke-opacity="0.45" stroke-width="0.6"/>
<circle cx="307.7" cy="351.3" r="5.2" fill="url(#gO)" stroke="#1a1815" stroke-opacity="0.45" stroke-width="0.6"/>
<circle cx="234.6" cy="365.2" r="5.2" fill="url(#gO)" stroke="#1a1815" stroke-opacity="0.45" stroke-width="0.6"/>
<circle cx="249.8" cy="362.5" r="5.2" fill="url(#gO)" stroke="#1a1815" stroke-opacity="0.45" stroke-width="0.6"/>
<circle cx="170.3" cy="353.6" r="4.8" fill="url(#gOd)" stroke="#1a1815" stroke-opacity="0.45" stroke-width="0.6"/>
<circle cx="114.1" cy="251.2" r="5.9" fill="url(#gN)" stroke="#1a1815" stroke-opacity="0.45" stroke-width="0.6"/>
<circle cx="108.9" cy="272.5" r="5.9" fill="url(#gN)" stroke="#1a1815" stroke-opacity="0.45" stroke-width="0.6"/>
<g fill="none" stroke-linecap="butt"><path d="M24.0,309.8 L12.0,320.6" stroke="#6a665c" stroke-width="3.8"/><path d="M12.0,320.6 L6.0,326.1" stroke="#9c0606" stroke-width="3.8"/><path d="M24.0,309.8 L12.0,320.6" stroke="#cfccc0" stroke-width="2.3"/><path d="M12.0,320.6 L6.0,326.1" stroke="#f41a1a" stroke-width="2.3"/></g>
<g fill="none" stroke-linecap="butt"><path d="M24.0,309.8 L42.5,304.9" stroke="#6a665c" stroke-width="3.8"/><path d="M42.5,304.9 L53.2,302.1" stroke="#9c0606" stroke-width="3.8"/><path d="M24.0,309.8 L42.5,304.9" stroke="#cfccc0" stroke-width="2.3"/><path d="M42.5,304.9 L53.2,302.1" stroke="#f41a1a" stroke-width="2.3"/></g>
<g fill="none" stroke-linecap="butt"><path d="M58.8,302.1 L74.5,306.1" stroke="#9c0606" stroke-width="3.8"/><path d="M74.5,306.1 L98.0,312.0" stroke="#6a665c" stroke-width="3.8"/><path d="M58.8,302.1 L74.5,306.1" stroke="#f41a1a" stroke-width="2.3"/><path d="M74.5,306.1 L98.0,312.0" stroke="#cfccc0" stroke-width="2.3"/></g>
<g fill="none" stroke-linecap="butt"><path d="M24.0,309.8 L26.5,331.7" stroke="#6a665c" stroke-width="3.8"/><path d="M26.5,331.7 L28.1,345.6" stroke="#9c0606" stroke-width="3.8"/><path d="M24.0,309.8 L26.5,331.7" stroke="#cfccc0" stroke-width="2.3"/><path d="M26.5,331.7 L28.1,345.6" stroke="#f41a1a" stroke-width="2.3"/></g>
<g fill="none" stroke-linecap="butt"><path d="M30.6,350.2 L42.1,359.9" stroke="#9c0606" stroke-width="3.8"/><path d="M42.1,359.9 L59.8,374.7" stroke="#6a665c" stroke-width="3.8"/><path d="M30.6,350.2 L42.1,359.9" stroke="#f41a1a" stroke-width="2.3"/><path d="M42.1,359.9 L59.8,374.7" stroke="#cfccc0" stroke-width="2.3"/></g>
<g fill="none" stroke-linecap="butt"><path d="M98.0,312.0 L88.2,331.3" stroke="#6a665c" stroke-width="3.8"/><path d="M88.2,331.3 L82.0,343.5" stroke="#9c0606" stroke-width="3.8"/><path d="M98.0,312.0 L88.2,331.3" stroke="#cfccc0" stroke-width="2.3"/><path d="M88.2,331.3 L82.0,343.5" stroke="#f41a1a" stroke-width="2.3"/></g>
<g fill="none" stroke-linecap="butt"><path d="M79.0,348.3 L71.8,358.2" stroke="#9c0606" stroke-width="3.8"/><path d="M71.8,358.2 L59.8,374.7" stroke="#6a665c" stroke-width="3.8"/><path d="M79.0,348.3 L71.8,358.2" stroke="#f41a1a" stroke-width="2.3"/><path d="M71.8,358.2 L59.8,374.7" stroke="#cfccc0" stroke-width="2.3"/></g>
<g fill="none" stroke-linecap="butt"><path d="M98.0,312.0 L104.0,290.1" stroke="#6a665c" stroke-width="3.8"/><path d="M104.0,290.1 L108.0,275.6" stroke="#8a94c8" stroke-width="3.8"/><path d="M98.0,312.0 L104.0,290.1" stroke="#cfccc0" stroke-width="2.3"/><path d="M104.0,290.1 L108.0,275.6" stroke="#eef1ff" stroke-width="2.3"/></g>
<g fill="none" stroke-linecap="butt"><path d="M98.0,312.0 L116.3,321.9" stroke="#6a665c" stroke-width="3.8"/><path d="M116.3,321.9 L127.5,328.0" stroke="#9c0606" stroke-width="3.8"/><path d="M98.0,312.0 L116.3,321.9" stroke="#cfccc0" stroke-width="2.3"/><path d="M116.3,321.9 L127.5,328.0" stroke="#f41a1a" stroke-width="2.3"/></g>
<g fill="none" stroke-linecap="butt"><path d="M132.1,331.4 L141.3,340.3" stroke="#9c0606" stroke-width="3.8"/><path d="M141.3,340.3 L156.4,354.8" stroke="#6a665c" stroke-width="3.8"/><path d="M132.1,331.4 L141.3,340.3" stroke="#f41a1a" stroke-width="2.3"/><path d="M141.3,340.3 L156.4,354.8" stroke="#cfccc0" stroke-width="2.3"/></g>
<g fill="none" stroke-linecap="butt"><path d="M156.4,354.8 L174.5,341.3" stroke="#6a665c" stroke-width="3.8"/><path d="M174.5,341.3 L186.1,332.7" stroke="#9c0606" stroke-width="3.8"/><path d="M156.4,354.8 L174.5,341.3" stroke="#cfccc0" stroke-width="2.3"/><path d="M174.5,341.3 L186.1,332.7" stroke="#f41a1a" stroke-width="2.3"/></g>
<g fill="none" stroke-linecap="butt"><path d="M191.3,330.8 L204.4,330.0" stroke="#9c0606" stroke-width="3.8"/><path d="M204.4,330.0 L225.5,328.6" stroke="#6a665c" stroke-width="3.8"/><path d="M191.3,330.8 L204.4,330.0" stroke="#f41a1a" stroke-width="2.3"/><path d="M204.4,330.0 L225.5,328.6" stroke="#cfccc0" stroke-width="2.3"/></g>
<g fill="none" stroke-linecap="butt"><path d="M59.8,374.7 L39.9,386.5" stroke="#6a665c" stroke-width="3.8"/><path d="M39.9,386.5 L27.0,394.1" stroke="#9c0606" stroke-width="3.8"/><path d="M59.8,374.7 L39.9,386.5" stroke="#cfccc0" stroke-width="2.3"/><path d="M39.9,386.5 L27.0,394.1" stroke="#f41a1a" stroke-width="2.3"/></g>
<g fill="none" stroke-linecap="butt"><path d="M59.8,374.7 L72.1,387.0" stroke="#6a665c" stroke-width="3.8"/><path d="M72.1,387.0 L78.7,393.6" stroke="#9c0606" stroke-width="3.8"/><path d="M59.8,374.7 L72.1,387.0" stroke="#cfccc0" stroke-width="2.3"/><path d="M72.1,387.0 L78.7,393.6" stroke="#f41a1a" stroke-width="2.3"/></g>
<g fill="none" stroke-linecap="butt"><path d="M156.4,354.8 L144.4,371.8" stroke="#6a665c" stroke-width="3.8"/><path d="M144.4,371.8 L137.0,382.3" stroke="#9c0606" stroke-width="3.8"/><path d="M156.4,354.8 L144.4,371.8" stroke="#cfccc0" stroke-width="2.3"/><path d="M144.4,371.8 L137.0,382.3" stroke="#f41a1a" stroke-width="2.3"/></g>
<g fill="none" stroke-linecap="butt"><path d="M156.4,354.8 L172.6,370.9" stroke="#6a665c" stroke-width="3.8"/><path d="M172.6,370.9 L183.2,381.3" stroke="#9c0606" stroke-width="3.8"/><path d="M156.4,354.8 L172.6,370.9" stroke="#cfccc0" stroke-width="2.3"/><path d="M172.6,370.9 L183.2,381.3" stroke="#f41a1a" stroke-width="2.3"/></g>
<g fill="none" stroke-linecap="butt"><path d="M187.6,384.8 L198.4,391.5" stroke="#9c0606" stroke-width="3.8"/><path d="M198.4,391.5 L216.0,402.5" stroke="#6a665c" stroke-width="3.8"/><path d="M187.6,384.8 L198.4,391.5" stroke="#f41a1a" stroke-width="2.3"/><path d="M198.4,391.5 L216.0,402.5" stroke="#cfccc0" stroke-width="2.3"/></g>
<g fill="none" stroke-linecap="butt"><path d="M225.5,328.6 L230.7,349.4" stroke="#6a665c" stroke-width="3.8"/><path d="M230.7,349.4 L233.9,362.4" stroke="#9c0606" stroke-width="3.8"/><path d="M225.5,328.6 L230.7,349.4" stroke="#cfccc0" stroke-width="2.3"/><path d="M230.7,349.4 L233.9,362.4" stroke="#f41a1a" stroke-width="2.3"/></g>
<g fill="none" stroke-linecap="butt"><path d="M237.4,365.5 L251.4,367.2" stroke="#9c0606" stroke-width="3.8"/><path d="M251.4,367.2 L273.4,369.7" stroke="#6a665c" stroke-width="3.8"/><path d="M237.4,365.5 L251.4,367.2" stroke="#f41a1a" stroke-width="2.3"/><path d="M251.4,367.2 L273.4,369.7" stroke="#cfccc0" stroke-width="2.3"/></g>
<g fill="none" stroke-linecap="butt"><path d="M233.3,367.8 L226.5,381.5" stroke="#9c0606" stroke-width="3.8"/><path d="M226.5,381.5 L216.0,402.5" stroke="#6a665c" stroke-width="3.8"/><path d="M233.3,367.8 L226.5,381.5" stroke="#f41a1a" stroke-width="2.3"/><path d="M226.5,381.5 L216.0,402.5" stroke="#cfccc0" stroke-width="2.3"/></g>
<g fill="none" stroke-linecap="butt"><path d="M225.5,328.6 L247.8,330.5" stroke="#6a665c" stroke-width="3.8"/><path d="M247.8,330.5 L262.2,331.8" stroke="#9c0606" stroke-width="3.8"/><path d="M225.5,328.6 L247.8,330.5" stroke="#cfccc0" stroke-width="2.3"/><path d="M247.8,330.5 L262.2,331.8" stroke="#f41a1a" stroke-width="2.3"/></g>
<g fill="none" stroke-linecap="butt"><path d="M267.5,330.7 L282.1,323.2" stroke="#9c0606" stroke-width="3.8"/><path d="M282.1,323.2 L303.8,312.0" stroke="#6a665c" stroke-width="3.8"/><path d="M267.5,330.7 L282.1,323.2" stroke="#f41a1a" stroke-width="2.3"/><path d="M282.1,323.2 L303.8,312.0" stroke="#cfccc0" stroke-width="2.3"/></g>
<g fill="none" stroke-linecap="butt"><path d="M265.6,334.8 L268.6,348.3" stroke="#9c0606" stroke-width="3.8"/><path d="M268.6,348.3 L273.4,369.7" stroke="#6a665c" stroke-width="3.8"/><path d="M265.6,334.8 L268.6,348.3" stroke="#f41a1a" stroke-width="2.3"/><path d="M268.6,348.3 L273.4,369.7" stroke="#cfccc0" stroke-width="2.3"/></g>
<g fill="none" stroke-linecap="butt"><path d="M303.8,312.0 L306.0,334.2" stroke="#6a665c" stroke-width="3.8"/><path d="M306.0,334.2 L307.4,348.5" stroke="#9c0606" stroke-width="3.8"/><path d="M303.8,312.0 L306.0,334.2" stroke="#cfccc0" stroke-width="2.3"/><path d="M306.0,334.2 L307.4,348.5" stroke="#f41a1a" stroke-width="2.3"/></g>
<g fill="none" stroke-linecap="butt"><path d="M225.5,328.6 L230.7,324.4" stroke="#6a665c" stroke-width="3.8"/><path d="M230.7,324.4 L233.6,322.0" stroke="#9c0606" stroke-width="3.8"/><path d="M225.5,328.6 L230.7,324.4" stroke="#cfccc0" stroke-width="2.3"/><path d="M230.7,324.4 L233.6,322.0" stroke="#f41a1a" stroke-width="2.3"/></g>
<g fill="none" stroke-linecap="butt"><path d="M24.0,309.8 L0.3,320.8" stroke="#6a665c" stroke-width="3.8"/><path d="M0.3,320.8 L-14.0,327.5" stroke="#6a665c" stroke-width="3.8"/><path d="M24.0,309.8 L0.3,320.8" stroke="#cfccc0" stroke-width="2.3"/><path d="M0.3,320.8 L-14.0,327.5" stroke="#cfccc0" stroke-width="2.3"/></g>
<circle cx="24" cy="309.8" r="10.4" fill="url(#gW)" stroke="#1a1815" stroke-opacity="0.45" stroke-width="0.6"/>
<circle cx="98" cy="312" r="10.4" fill="url(#gW)" stroke="#1a1815" stroke-opacity="0.45" stroke-width="0.6"/>
<circle cx="59.8" cy="374.7" r="10.4" fill="url(#gW)" stroke="#1a1815" stroke-opacity="0.45" stroke-width="0.6"/>
<circle cx="156.4" cy="354.8" r="10.4" fill="url(#gW)" stroke="#1a1815" stroke-opacity="0.45" stroke-width="0.6"/>
<circle cx="225.5" cy="328.6" r="10.4" fill="url(#gW)" stroke="#1a1815" stroke-opacity="0.45" stroke-width="0.6"/>
<circle cx="273.4" cy="369.7" r="10.4" fill="url(#gW)" stroke="#1a1815" stroke-opacity="0.45" stroke-width="0.6"/>
<circle cx="303.8" cy="312" r="10.4" fill="url(#gW)" stroke="#1a1815" stroke-opacity="0.45" stroke-width="0.6"/>
<circle cx="216" cy="402.5" r="10.4" fill="url(#gW)" stroke="#1a1815" stroke-opacity="0.45" stroke-width="0.6"/>
<g fill="none" stroke-linecap="butt"><path d="M18.4,308.7 L17.6,308.6" stroke="#6a665c" stroke-width="3.8"/><path d="M17.6,308.6 L11.3,307.3" stroke="#9c0606" stroke-width="3.8"/><path d="M18.4,308.7 L17.6,308.6" stroke="#cfccc0" stroke-width="2.3"/><path d="M17.6,308.6 L11.3,307.3" stroke="#f41a1a" stroke-width="2.3"/></g>
<circle cx="11.3" cy="307.3" r="5.2" fill="url(#gO)" stroke="#1a1815" stroke-opacity="0.45" stroke-width="0.6"/>
<circle cx="86.7" cy="311" r="5.2" fill="url(#gO)" stroke="#1a1815" stroke-opacity="0.45" stroke-width="0.6"/>
<circle cx="48.4" cy="378" r="5.2" fill="url(#gO)" stroke="#1a1815" stroke-opacity="0.45" stroke-width="0.6"/>
<circle cx="150.4" cy="358" r="5.2" fill="url(#gO)" stroke="#1a1815" stroke-opacity="0.45" stroke-width="0.6"/>
<circle cx="219.4" cy="322.3" r="5.2" fill="url(#gO)" stroke="#1a1815" stroke-opacity="0.45" stroke-width="0.6"/>
<circle cx="291" cy="309.5" r="5.2" fill="url(#gO)" stroke="#1a1815" stroke-opacity="0.45" stroke-width="0.6"/>
<circle cx="265.8" cy="373.4" r="5.2" fill="url(#gO)" stroke="#1a1815" stroke-opacity="0.45" stroke-width="0.6"/>
</g>
<rect x="223.6" y="380.0" width="93.6" height="18.399999999999977" fill="#fff" stroke="#8a8a8a" stroke-width="0.7"/>
<circle cx="233" cy="389.1" r="6.4" fill="url(#gW)"/>
<text x="242.3" y="394.4" font-size="13.1" fill="#000" stroke="#000" stroke-width="0.25" text-anchor="start" >W</text>
<circle cx="266.5" cy="389.1" r="5.7" fill="url(#gO)"/>
<text x="275.8" y="394.4" font-size="13.1" fill="#000" stroke="#000" stroke-width="0.25" text-anchor="start" >O</text>
<circle cx="295.9" cy="389.1" r="5.7" fill="url(#gN)"/>
<text x="305" y="394.4" font-size="13.1" fill="#000" stroke="#000" stroke-width="0.25" text-anchor="start" >N</text>
<rect x="1.7" y="243.7" width="315.5" height="155.2" rx="1" fill="none" stroke="#1e1e1e" stroke-width="1.35"/>
<text x="4.4" y="261" font-size="28.8" fill="#000" stroke="#000" stroke-width="0" text-anchor="start" >c</text>
<text x="209.2" y="267.4" font-size="17.6" fill="#1414b4" stroke="#1414b4" stroke-width="0" text-anchor="start" >N-N: 1.13 &#197;</text>
<g clip-path="url(#clipD)">
<g fill="none" stroke-linecap="butt"><path d="M616.4,368.4 L637.0,359.7" stroke="#6a665c" stroke-width="3.8"/><path d="M637.0,359.7 L648.0,355.0" stroke="#9c0606" stroke-width="3.8"/><path d="M616.4,368.4 L637.0,359.7" stroke="#cfccc0" stroke-width="2.3"/><path d="M637.0,359.7 L648.0,355.0" stroke="#f41a1a" stroke-width="2.3"/></g>
<circle cx="364.8" cy="298.3" r="5.2" fill="url(#gO)" stroke="#1a1815" stroke-opacity="0.45" stroke-width="0.6"/>
<circle cx="446.5" cy="306.5" r="5.2" fill="url(#gO)" stroke="#1a1815" stroke-opacity="0.45" stroke-width="0.6"/>
<g fill="none" stroke-linecap="butt"><path d="M367.8,309.0 L366.3,303.6" stroke="#6a665c" stroke-width="3.8"/><path d="M366.3,303.6 L365.6,301.1" stroke="#9c0606" stroke-width="3.8"/><path d="M367.8,309.0 L366.3,303.6" stroke="#cfccc0" stroke-width="2.3"/><path d="M366.3,303.6 L365.6,301.1" stroke="#f41a1a" stroke-width="2.3"/></g>
<g fill="none" stroke-linecap="butt"><path d="M354.4,395.6 L343.2,404.4" stroke="#9c0606" stroke-width="3.8"/><path d="M343.2,404.4 L336.0,410.0" stroke="#6a665c" stroke-width="3.8"/><path d="M354.4,395.6 L343.2,404.4" stroke="#f41a1a" stroke-width="2.3"/><path d="M343.2,404.4 L336.0,410.0" stroke="#cfccc0" stroke-width="2.3"/></g>
<g fill="none" stroke-linecap="butt"><path d="M367.8,395.0 L356.9,404.2" stroke="#9c0606" stroke-width="3.8"/><path d="M356.9,404.2 L350.0,410.0" stroke="#6a665c" stroke-width="3.8"/><path d="M367.8,395.0 L356.9,404.2" stroke="#f41a1a" stroke-width="2.3"/><path d="M356.9,404.2 L350.0,410.0" stroke="#cfccc0" stroke-width="2.3"/></g>
<g fill="none" stroke-linecap="butt"><path d="M412.7,397.0 L428.6,405.8" stroke="#9c0606" stroke-width="3.8"/><path d="M428.6,405.8 L440.0,412.0" stroke="#6a665c" stroke-width="3.8"/><path d="M412.7,397.0 L428.6,405.8" stroke="#f41a1a" stroke-width="2.3"/><path d="M428.6,405.8 L440.0,412.0" stroke="#cfccc0" stroke-width="2.3"/></g>
<g fill="none" stroke-linecap="butt"><path d="M424.6,398.0 L434.2,406.7" stroke="#9c0606" stroke-width="3.8"/><path d="M434.2,406.7 L440.0,412.0" stroke="#6a665c" stroke-width="3.8"/><path d="M424.6,398.0 L434.2,406.7" stroke="#f41a1a" stroke-width="2.3"/><path d="M434.2,406.7 L440.0,412.0" stroke="#cfccc0" stroke-width="2.3"/></g>
<g fill="none" stroke-linecap="butt"><path d="M470.5,391.0 L461.1,402.5" stroke="#9c0606" stroke-width="3.8"/><path d="M461.1,402.5 L455.0,410.0" stroke="#6a665c" stroke-width="3.8"/><path d="M470.5,391.0 L461.1,402.5" stroke="#f41a1a" stroke-width="2.3"/><path d="M461.1,402.5 L455.0,410.0" stroke="#cfccc0" stroke-width="2.3"/></g>
<g fill="none" stroke-linecap="butt"><path d="M629.6,350.8 L645.9,362.4" stroke="#9c0606" stroke-width="3.8"/><path d="M645.9,362.4 L658.0,371.0" stroke="#6a665c" stroke-width="3.8"/><path d="M629.6,350.8 L645.9,362.4" stroke="#f41a1a" stroke-width="2.3"/><path d="M645.9,362.4 L658.0,371.0" stroke="#cfccc0" stroke-width="2.3"/></g>
<circle cx="367.8" cy="309" r="10.4" fill="url(#gW)" stroke="#1a1815" stroke-opacity="0.45" stroke-width="0.6"/>
<circle cx="403" cy="371" r="10.4" fill="url(#gW)" stroke="#1a1815" stroke-opacity="0.45" stroke-width="0.6"/>
<circle cx="501" cy="355.4" r="10.4" fill="url(#gW)" stroke="#1a1815" stroke-opacity="0.45" stroke-width="0.6"/>
<circle cx="566.8" cy="324.5" r="10.4" fill="url(#gW)" stroke="#1a1815" stroke-opacity="0.45" stroke-width="0.6"/>
<circle cx="616.4" cy="368.4" r="10.4" fill="url(#gW)" stroke="#1a1815" stroke-opacity="0.45" stroke-width="0.6"/>
<circle cx="638" cy="310.5" r="10.4" fill="url(#gW)" stroke="#1a1815" stroke-opacity="0.45" stroke-width="0.6"/>
<g fill="none" stroke-linecap="butt"><path d="M373.0,306.6 L384.8,301.2" stroke="#6a665c" stroke-width="3.8"/><path d="M384.8,301.2 L397.0,295.5" stroke="#9c0606" stroke-width="3.8"/><path d="M373.0,306.6 L384.8,301.2" stroke="#cfccc0" stroke-width="2.3"/><path d="M384.8,301.2 L397.0,295.5" stroke="#f41a1a" stroke-width="2.3"/></g>
<g fill="none" stroke-linecap="butt"><path d="M368.5,314.7 L370.4,329.8" stroke="#6a665c" stroke-width="3.8"/><path d="M370.4,329.8 L372.3,345.4" stroke="#9c0606" stroke-width="3.8"/><path d="M368.5,314.7 L370.4,329.8" stroke="#cfccc0" stroke-width="2.3"/><path d="M370.4,329.8 L372.3,345.4" stroke="#f41a1a" stroke-width="2.3"/></g>
<g fill="none" stroke-linecap="butt"><path d="M372.3,345.4 L385.7,356.5" stroke="#9c0606" stroke-width="3.8"/><path d="M385.7,356.5 L398.6,367.3" stroke="#6a665c" stroke-width="3.8"/><path d="M372.3,345.4 L385.7,356.5" stroke="#f41a1a" stroke-width="2.3"/><path d="M385.7,356.5 L398.6,367.3" stroke="#cfccc0" stroke-width="2.3"/></g>
<g fill="none" stroke-linecap="butt"><path d="M417.0,341.0 L411.1,353.6" stroke="#9c0606" stroke-width="3.8"/><path d="M411.1,353.6 L405.4,365.8" stroke="#6a665c" stroke-width="3.8"/><path d="M417.0,341.0 L411.1,353.6" stroke="#f41a1a" stroke-width="2.3"/><path d="M411.1,353.6 L405.4,365.8" stroke="#cfccc0" stroke-width="2.3"/></g>
<g fill="none" stroke-linecap="butt"><path d="M477.7,321.3 L487.9,336.2" stroke="#9c0606" stroke-width="3.8"/><path d="M487.9,336.2 L497.8,350.7" stroke="#6a665c" stroke-width="3.8"/><path d="M477.7,321.3 L487.9,336.2" stroke="#f41a1a" stroke-width="2.3"/><path d="M487.9,336.2 L497.8,350.7" stroke="#cfccc0" stroke-width="2.3"/></g>
<g fill="none" stroke-linecap="butt"><path d="M398.3,374.2 L383.3,384.5" stroke="#6a665c" stroke-width="3.8"/><path d="M383.3,384.5 L367.8,395.0" stroke="#9c0606" stroke-width="3.8"/><path d="M398.3,374.2 L383.3,384.5" stroke="#cfccc0" stroke-width="2.3"/><path d="M383.3,384.5 L367.8,395.0" stroke="#f41a1a" stroke-width="2.3"/></g>
<g fill="none" stroke-linecap="butt"><path d="M406.6,375.5 L415.4,386.5" stroke="#6a665c" stroke-width="3.8"/><path d="M415.4,386.5 L424.6,398.0" stroke="#9c0606" stroke-width="3.8"/><path d="M406.6,375.5 L415.4,386.5" stroke="#cfccc0" stroke-width="2.3"/><path d="M415.4,386.5 L424.6,398.0" stroke="#f41a1a" stroke-width="2.3"/></g>
<g fill="none" stroke-linecap="butt"><path d="M505.4,351.8 L517.3,342.2" stroke="#6a665c" stroke-width="3.8"/><path d="M517.3,342.2 L529.6,332.3" stroke="#9c0606" stroke-width="3.8"/><path d="M505.4,351.8 L517.3,342.2" stroke="#cfccc0" stroke-width="2.3"/><path d="M517.3,342.2 L529.6,332.3" stroke="#f41a1a" stroke-width="2.3"/></g>
<g fill="none" stroke-linecap="butt"><path d="M529.6,332.3 L545.7,328.9" stroke="#9c0606" stroke-width="3.8"/><path d="M545.7,328.9 L561.2,325.7" stroke="#6a665c" stroke-width="3.8"/><path d="M529.6,332.3 L545.7,328.9" stroke="#f41a1a" stroke-width="2.3"/><path d="M545.7,328.9 L561.2,325.7" stroke="#cfccc0" stroke-width="2.3"/></g>
<g fill="none" stroke-linecap="butt"><path d="M567.9,330.1 L570.9,346.3" stroke="#6a665c" stroke-width="3.8"/><path d="M570.9,346.3 L574.0,363.0" stroke="#9c0606" stroke-width="3.8"/><path d="M567.9,330.1 L570.9,346.3" stroke="#cfccc0" stroke-width="2.3"/><path d="M570.9,346.3 L574.0,363.0" stroke="#f41a1a" stroke-width="2.3"/></g>
<g fill="none" stroke-linecap="butt"><path d="M574.0,363.0 L592.6,365.4" stroke="#9c0606" stroke-width="3.8"/><path d="M592.6,365.4 L610.7,367.7" stroke="#6a665c" stroke-width="3.8"/><path d="M574.0,363.0 L592.6,365.4" stroke="#f41a1a" stroke-width="2.3"/><path d="M592.6,365.4 L610.7,367.7" stroke="#cfccc0" stroke-width="2.3"/></g>
<g fill="none" stroke-linecap="butt"><path d="M572.5,325.3 L588.0,327.6" stroke="#6a665c" stroke-width="3.8"/><path d="M588.0,327.6 L604.0,330.0" stroke="#9c0606" stroke-width="3.8"/><path d="M572.5,325.3 L588.0,327.6" stroke="#cfccc0" stroke-width="2.3"/><path d="M588.0,327.6 L604.0,330.0" stroke="#f41a1a" stroke-width="2.3"/></g>
<g fill="none" stroke-linecap="butt"><path d="M604.0,330.0 L618.7,321.5" stroke="#9c0606" stroke-width="3.8"/><path d="M618.7,321.5 L633.0,313.3" stroke="#6a665c" stroke-width="3.8"/><path d="M604.0,330.0 L618.7,321.5" stroke="#f41a1a" stroke-width="2.3"/><path d="M618.7,321.5 L633.0,313.3" stroke="#cfccc0" stroke-width="2.3"/></g>
<g fill="none" stroke-linecap="butt"><path d="M604.0,330.0 L609.4,346.7" stroke="#9c0606" stroke-width="3.8"/><path d="M609.4,346.7 L614.6,363.0" stroke="#6a665c" stroke-width="3.8"/><path d="M604.0,330.0 L609.4,346.7" stroke="#f41a1a" stroke-width="2.3"/><path d="M609.4,346.7 L614.6,363.0" stroke="#cfccc0" stroke-width="2.3"/></g>
<g fill="none" stroke-linecap="butt"><path d="M629.6,350.8 L624.6,357.5" stroke="#9c0606" stroke-width="3.8"/><path d="M624.6,357.5 L619.8,363.8" stroke="#6a665c" stroke-width="3.8"/><path d="M629.6,350.8 L624.6,357.5" stroke="#f41a1a" stroke-width="2.3"/><path d="M624.6,357.5 L619.8,363.8" stroke="#cfccc0" stroke-width="2.3"/></g>
<g fill="none" stroke-linecap="butt"><path d="M570.9,320.5 L570.4,320.9" stroke="#6a665c" stroke-width="3.8"/><path d="M570.4,320.9 L574.0,317.4" stroke="#9c0606" stroke-width="3.8"/><path d="M570.9,320.5 L570.4,320.9" stroke="#cfccc0" stroke-width="2.3"/><path d="M570.4,320.9 L574.0,317.4" stroke="#f41a1a" stroke-width="2.3"/></g>
<g fill="none" stroke-linecap="butt"><path d="M484.5,356.7 L505.5,383.4" stroke="#6a665c" stroke-width="3.8"/><path d="M505.5,383.4 L520.0,402.0" stroke="#6a665c" stroke-width="3.8"/><path d="M484.5,356.7 L505.5,383.4" stroke="#cfccc0" stroke-width="2.3"/><path d="M505.5,383.4 L520.0,402.0" stroke="#cfccc0" stroke-width="2.3"/></g>
<circle cx="330.5" cy="327.4" r="5.2" fill="url(#gO)" stroke="#1a1815" stroke-opacity="0.45" stroke-width="0.6"/>
<circle cx="382.8" cy="301.4" r="5.2" fill="url(#gO)" stroke="#1a1815" stroke-opacity="0.45" stroke-width="0.6"/>
<circle cx="397" cy="295.5" r="5.2" fill="url(#gO)" stroke="#1a1815" stroke-opacity="0.45" stroke-width="0.6"/>
<circle cx="355.9" cy="346.3" r="5.2" fill="url(#gO)" stroke="#1a1815" stroke-opacity="0.45" stroke-width="0.6"/>
<circle cx="372.3" cy="345.4" r="5.2" fill="url(#gO)" stroke="#1a1815" stroke-opacity="0.45" stroke-width="0.6"/>
<circle cx="417" cy="341" r="5.2" fill="url(#gO)" stroke="#1a1815" stroke-opacity="0.45" stroke-width="0.6"/>
<circle cx="354.4" cy="395.6" r="5.2" fill="url(#gO)" stroke="#1a1815" stroke-opacity="0.45" stroke-width="0.6"/>
<circle cx="367.8" cy="395" r="5.2" fill="url(#gO)" stroke="#1a1815" stroke-opacity="0.45" stroke-width="0.6"/>
<circle cx="412.7" cy="397" r="5.2" fill="url(#gO)" stroke="#1a1815" stroke-opacity="0.45" stroke-width="0.6"/>
<circle cx="424.6" cy="398" r="5.2" fill="url(#gO)" stroke="#1a1815" stroke-opacity="0.45" stroke-width="0.6"/>
<circle cx="458.2" cy="326.6" r="5.2" fill="url(#gO)" stroke="#1a1815" stroke-opacity="0.45" stroke-width="0.6"/>
<circle cx="477.7" cy="321.3" r="5.2" fill="url(#gO)" stroke="#1a1815" stroke-opacity="0.45" stroke-width="0.6"/>
<circle cx="513.4" cy="331.8" r="5.2" fill="url(#gO)" stroke="#1a1815" stroke-opacity="0.45" stroke-width="0.6"/>
<circle cx="529.6" cy="332.3" r="5.2" fill="url(#gO)" stroke="#1a1815" stroke-opacity="0.45" stroke-width="0.6"/>
<circle cx="470.5" cy="391" r="5.2" fill="url(#gO)" stroke="#1a1815" stroke-opacity="0.45" stroke-width="0.6"/>
<circle cx="478.6" cy="385" r="5.2" fill="url(#gO)" stroke="#1a1815" stroke-opacity="0.45" stroke-width="0.6"/>
<circle cx="559.8" cy="318.4" r="5.2" fill="url(#gO)" stroke="#1a1815" stroke-opacity="0.45" stroke-width="0.6"/>
<circle cx="574" cy="317.4" r="5.2" fill="url(#gO)" stroke="#1a1815" stroke-opacity="0.45" stroke-width="0.6"/>
<circle cx="588.9" cy="331.5" r="5.2" fill="url(#gO)" stroke="#1a1815" stroke-opacity="0.45" stroke-width="0.6"/>
<circle cx="604" cy="330" r="5.2" fill="url(#gO)" stroke="#1a1815" stroke-opacity="0.45" stroke-width="0.6"/>
<circle cx="629.6" cy="350.8" r="5.2" fill="url(#gO)" stroke="#1a1815" stroke-opacity="0.45" stroke-width="0.6"/>
<circle cx="558.6" cy="364.6" r="5.2" fill="url(#gO)" stroke="#1a1815" stroke-opacity="0.45" stroke-width="0.6"/>
<circle cx="574" cy="363" r="5.2" fill="url(#gO)" stroke="#1a1815" stroke-opacity="0.45" stroke-width="0.6"/>
<circle cx="427.4" cy="262.6" r="5.0" fill="url(#gN)" stroke="#1a1815" stroke-opacity="0.45" stroke-width="0.6"/>
<circle cx="453.5" cy="266.9" r="8.4" fill="url(#gP)" stroke="#1a1815" stroke-opacity="0.45" stroke-width="0.6"/>
<circle cx="441.5" cy="364" r="10.4" fill="url(#gFe)" stroke="#1a1815" stroke-opacity="0.45" stroke-width="0.6"/>
<g fill="none" stroke-linecap="butt"><path d="M413.8,275.3 L420.8,268.7" stroke="#8a94c8" stroke-width="3.8"/><path d="M420.8,268.7 L425.4,264.5" stroke="#8a94c8" stroke-width="3.8"/><path d="M413.8,275.3 L420.8,268.7" stroke="#eef1ff" stroke-width="2.3"/><path d="M420.8,268.7 L425.4,264.5" stroke="#eef1ff" stroke-width="2.3"/></g>
<g fill="none" stroke-linecap="butt"><path d="M457.3,269.5 L471.8,279.1" stroke="#947a9e" stroke-width="3.8"/><path d="M471.8,279.1 L490.0,291.3" stroke="#947a9e" stroke-width="3.8"/><path d="M457.3,269.5 L471.8,279.1" stroke="#d6bede" stroke-width="2.3"/><path d="M471.8,279.1 L490.0,291.3" stroke="#d6bede" stroke-width="2.3"/></g>
<g fill="none" stroke-linecap="butt"><path d="M490.0,291.3 L483.2,307.8" stroke="#947a9e" stroke-width="3.8"/><path d="M483.2,307.8 L478.8,318.7" stroke="#9c0606" stroke-width="3.8"/><path d="M490.0,291.3 L483.2,307.8" stroke="#d6bede" stroke-width="2.3"/><path d="M483.2,307.8 L478.8,318.7" stroke="#f41a1a" stroke-width="2.3"/></g>
<g fill="none" stroke-linecap="butt"><path d="M458.0,267.7 L464.7,268.9" stroke="#947a9e" stroke-width="3.8"/><path d="M464.7,268.9 L475.9,270.9" stroke="#947a9e" stroke-width="3.8"/><path d="M458.0,267.7 L464.7,268.9" stroke="#d6bede" stroke-width="2.3"/><path d="M464.7,268.9 L475.9,270.9" stroke="#d6bede" stroke-width="2.3"/></g>
<circle cx="413.8" cy="275.3" r="5.6" fill="url(#gN)" stroke="#1a1815" stroke-opacity="0.45" stroke-width="0.6"/>
<circle cx="490" cy="291.3" r="8.4" fill="url(#gP)" stroke="#1a1815" stroke-opacity="0.45" stroke-width="0.6"/>
<g fill="none" stroke-linecap="butt"><path d="M475.9,270.9 L482.9,281.1" stroke="#947a9e" stroke-width="3.8"/><path d="M482.9,281.1 L487.4,287.5" stroke="#947a9e" stroke-width="3.8"/><path d="M475.9,270.9 L482.9,281.1" stroke="#d6bede" stroke-width="2.3"/><path d="M482.9,281.1 L487.4,287.5" stroke="#d6bede" stroke-width="2.3"/></g>
<g fill="none" stroke-linecap="butt"><path d="M461.0,293.8 L459.5,311.8" stroke="#947a9e" stroke-width="3.8"/><path d="M459.5,311.8 L458.4,323.8" stroke="#9c0606" stroke-width="3.8"/><path d="M461.0,293.8 L459.5,311.8" stroke="#d6bede" stroke-width="2.3"/><path d="M459.5,311.8 L458.4,323.8" stroke="#f41a1a" stroke-width="2.3"/></g>
<circle cx="475.9" cy="270.9" r="8.4" fill="url(#gP)" stroke="#1a1815" stroke-opacity="0.45" stroke-width="0.6"/>
<g fill="none" stroke-linecap="butt"><path d="M473.4,274.8 L468.4,282.3" stroke="#947a9e" stroke-width="3.8"/><path d="M468.4,282.3 L461.0,293.8" stroke="#947a9e" stroke-width="3.8"/><path d="M473.4,274.8 L468.4,282.3" stroke="#d6bede" stroke-width="2.3"/><path d="M468.4,282.3 L461.0,293.8" stroke="#d6bede" stroke-width="2.3"/></g>
<circle cx="461" cy="293.8" r="8.4" fill="url(#gP)" stroke="#1a1815" stroke-opacity="0.45" stroke-width="0.6"/>
<g fill="none" stroke-linecap="butt"><path d="M350.0,310.4 L338.3,320.6" stroke="#6a665c" stroke-width="3.8"/><path d="M338.3,320.6 L332.7,325.5" stroke="#9c0606" stroke-width="3.8"/><path d="M350.0,310.4 L338.3,320.6" stroke="#cfccc0" stroke-width="2.3"/><path d="M338.3,320.6 L332.7,325.5" stroke="#f41a1a" stroke-width="2.3"/></g>
<g fill="none" stroke-linecap="butt"><path d="M350.0,310.4 L368.9,305.2" stroke="#6a665c" stroke-width="3.8"/><path d="M368.9,305.2 L380.0,302.2" stroke="#9c0606" stroke-width="3.8"/><path d="M350.0,310.4 L368.9,305.2" stroke="#cfccc0" stroke-width="2.3"/><path d="M368.9,305.2 L380.0,302.2" stroke="#f41a1a" stroke-width="2.3"/></g>
<g fill="none" stroke-linecap="butt"><path d="M385.5,302.2 L397.6,305.8" stroke="#9c0606" stroke-width="3.8"/><path d="M397.6,305.8 L417.3,311.8" stroke="#6a665c" stroke-width="3.8"/><path d="M385.5,302.2 L397.6,305.8" stroke="#f41a1a" stroke-width="2.3"/><path d="M397.6,305.8 L417.3,311.8" stroke="#cfccc0" stroke-width="2.3"/></g>
<g fill="none" stroke-linecap="butt"><path d="M350.0,310.4 L353.4,330.9" stroke="#6a665c" stroke-width="3.8"/><path d="M353.4,330.9 L355.4,343.5" stroke="#9c0606" stroke-width="3.8"/><path d="M350.0,310.4 L353.4,330.9" stroke="#cfccc0" stroke-width="2.3"/><path d="M353.4,330.9 L355.4,343.5" stroke="#f41a1a" stroke-width="2.3"/></g>
<g fill="none" stroke-linecap="butt"><path d="M357.9,348.3 L368.4,359.0" stroke="#9c0606" stroke-width="3.8"/><path d="M368.4,359.0 L384.6,375.3" stroke="#6a665c" stroke-width="3.8"/><path d="M357.9,348.3 L368.4,359.0" stroke="#f41a1a" stroke-width="2.3"/><path d="M368.4,359.0 L384.6,375.3" stroke="#cfccc0" stroke-width="2.3"/></g>
<g fill="none" stroke-linecap="butt"><path d="M417.3,311.8 L417.1,329.0" stroke="#6a665c" stroke-width="3.8"/><path d="M417.1,329.0 L417.0,338.1" stroke="#9c0606" stroke-width="3.8"/><path d="M417.3,311.8 L417.1,329.0" stroke="#cfccc0" stroke-width="2.3"/><path d="M417.1,329.0 L417.0,338.1" stroke="#f41a1a" stroke-width="2.3"/></g>
<g fill="none" stroke-linecap="butt"><path d="M417.3,311.8 L440.2,320.1" stroke="#6a665c" stroke-width="3.8"/><path d="M440.2,320.1 L455.5,325.6" stroke="#9c0606" stroke-width="3.8"/><path d="M417.3,311.8 L440.2,320.1" stroke="#cfccc0" stroke-width="2.3"/><path d="M440.2,320.1 L455.5,325.6" stroke="#f41a1a" stroke-width="2.3"/></g>
<g fill="none" stroke-linecap="butt"><path d="M460.1,328.8 L469.6,339.7" stroke="#9c0606" stroke-width="3.8"/><path d="M469.6,339.7 L484.5,356.7" stroke="#6a665c" stroke-width="3.8"/><path d="M460.1,328.8 L469.6,339.7" stroke="#f41a1a" stroke-width="2.3"/><path d="M469.6,339.7 L484.5,356.7" stroke="#cfccc0" stroke-width="2.3"/></g>
<g fill="none" stroke-linecap="butt"><path d="M384.6,375.3 L367.3,386.9" stroke="#6a665c" stroke-width="3.8"/><path d="M367.3,386.9 L356.8,394.0" stroke="#9c0606" stroke-width="3.8"/><path d="M384.6,375.3 L367.3,386.9" stroke="#cfccc0" stroke-width="2.3"/><path d="M367.3,386.9 L356.8,394.0" stroke="#f41a1a" stroke-width="2.3"/></g>
<g fill="none" stroke-linecap="butt"><path d="M384.6,375.3 L400.7,387.7" stroke="#6a665c" stroke-width="3.8"/><path d="M400.7,387.7 L410.4,395.3" stroke="#9c0606" stroke-width="3.8"/><path d="M384.6,375.3 L400.7,387.7" stroke="#cfccc0" stroke-width="2.3"/><path d="M400.7,387.7 L410.4,395.3" stroke="#f41a1a" stroke-width="2.3"/></g>
<g fill="none" stroke-linecap="butt"><path d="M484.5,356.7 L476.5,376.3" stroke="#6a665c" stroke-width="3.8"/><path d="M476.5,376.3 L471.6,388.4" stroke="#9c0606" stroke-width="3.8"/><path d="M484.5,356.7 L476.5,376.3" stroke="#cfccc0" stroke-width="2.3"/><path d="M476.5,376.3 L471.6,388.4" stroke="#f41a1a" stroke-width="2.3"/></g>
<g fill="none" stroke-linecap="butt"><path d="M484.5,356.7 L481.0,373.4" stroke="#6a665c" stroke-width="3.8"/><path d="M481.0,373.4 L479.2,382.2" stroke="#9c0606" stroke-width="3.8"/><path d="M484.5,356.7 L481.0,373.4" stroke="#cfccc0" stroke-width="2.3"/><path d="M481.0,373.4 L479.2,382.2" stroke="#f41a1a" stroke-width="2.3"/></g>
<g fill="none" stroke-linecap="butt"><path d="M484.5,356.7 L500.9,342.6" stroke="#6a665c" stroke-width="3.8"/><path d="M500.9,342.6 L511.2,333.7" stroke="#9c0606" stroke-width="3.8"/><path d="M484.5,356.7 L500.9,342.6" stroke="#cfccc0" stroke-width="2.3"/><path d="M500.9,342.6 L511.2,333.7" stroke="#f41a1a" stroke-width="2.3"/></g>
<g fill="none" stroke-linecap="butt"><path d="M516.2,331.5 L529.2,330.3" stroke="#9c0606" stroke-width="3.8"/><path d="M529.2,330.3 L550.2,328.2" stroke="#6a665c" stroke-width="3.8"/><path d="M516.2,331.5 L529.2,330.3" stroke="#f41a1a" stroke-width="2.3"/><path d="M529.2,330.3 L550.2,328.2" stroke="#cfccc0" stroke-width="2.3"/></g>
<g fill="none" stroke-linecap="butt"><path d="M550.2,328.2 L555.0,348.9" stroke="#6a665c" stroke-width="3.8"/><path d="M555.0,348.9 L558.0,361.8" stroke="#9c0606" stroke-width="3.8"/><path d="M550.2,328.2 L555.0,348.9" stroke="#cfccc0" stroke-width="2.3"/><path d="M555.0,348.9 L558.0,361.8" stroke="#f41a1a" stroke-width="2.3"/></g>
<g fill="none" stroke-linecap="butt"><path d="M561.4,364.9 L575.6,366.7" stroke="#9c0606" stroke-width="3.8"/><path d="M575.6,366.7 L597.8,369.4" stroke="#6a665c" stroke-width="3.8"/><path d="M561.4,364.9 L575.6,366.7" stroke="#f41a1a" stroke-width="2.3"/><path d="M575.6,366.7 L597.8,369.4" stroke="#cfccc0" stroke-width="2.3"/></g>
<g fill="none" stroke-linecap="butt"><path d="M550.2,328.2 L572.1,330.1" stroke="#6a665c" stroke-width="3.8"/><path d="M572.1,330.1 L586.1,331.3" stroke="#9c0606" stroke-width="3.8"/><path d="M550.2,328.2 L572.1,330.1" stroke="#cfccc0" stroke-width="2.3"/><path d="M572.1,330.1 L586.1,331.3" stroke="#f41a1a" stroke-width="2.3"/></g>
<g fill="none" stroke-linecap="butt"><path d="M591.4,330.1 L605.1,322.8" stroke="#9c0606" stroke-width="3.8"/><path d="M605.1,322.8 L625.8,311.6" stroke="#6a665c" stroke-width="3.8"/><path d="M591.4,330.1 L605.1,322.8" stroke="#f41a1a" stroke-width="2.3"/><path d="M605.1,322.8 L625.8,311.6" stroke="#cfccc0" stroke-width="2.3"/></g>
<g fill="none" stroke-linecap="butt"><path d="M589.6,334.3 L592.8,347.9" stroke="#9c0606" stroke-width="3.8"/><path d="M592.8,347.9 L597.8,369.4" stroke="#6a665c" stroke-width="3.8"/><path d="M589.6,334.3 L592.8,347.9" stroke="#f41a1a" stroke-width="2.3"/><path d="M592.8,347.9 L597.8,369.4" stroke="#cfccc0" stroke-width="2.3"/></g>
<g fill="none" stroke-linecap="butt"><path d="M625.8,311.6 L628.0,333.8" stroke="#6a665c" stroke-width="3.8"/><path d="M628.0,333.8 L629.3,348.0" stroke="#9c0606" stroke-width="3.8"/><path d="M625.8,311.6 L628.0,333.8" stroke="#cfccc0" stroke-width="2.3"/><path d="M628.0,333.8 L629.3,348.0" stroke="#f41a1a" stroke-width="2.3"/></g>
<g fill="none" stroke-linecap="butt"><path d="M550.2,328.2 L555.0,323.3" stroke="#6a665c" stroke-width="3.8"/><path d="M555.0,323.3 L557.8,320.4" stroke="#9c0606" stroke-width="3.8"/><path d="M550.2,328.2 L555.0,323.3" stroke="#cfccc0" stroke-width="2.3"/><path d="M555.0,323.3 L557.8,320.4" stroke="#f41a1a" stroke-width="2.3"/></g>
<g fill="none" stroke-linecap="butt"><path d="M417.3,311.8 L415.3,291.2" stroke="#6a665c" stroke-width="3.8"/><path d="M415.3,291.2 L414.1,278.4" stroke="#8a94c8" stroke-width="3.8"/><path d="M417.3,311.8 L415.3,291.2" stroke="#cfccc0" stroke-width="2.3"/><path d="M415.3,291.2 L414.1,278.4" stroke="#eef1ff" stroke-width="2.3"/></g>
<g fill="none" stroke-linecap="butt"><path d="M399.7,296.4 L413.9,300.8" stroke="#9c0606" stroke-width="3.8"/><path d="M413.9,300.8 L435.6,307.6" stroke="#6a665c" stroke-width="3.8"/><path d="M399.7,296.4 L413.9,300.8" stroke="#f41a1a" stroke-width="2.3"/><path d="M413.9,300.8 L435.6,307.6" stroke="#cfccc0" stroke-width="2.3"/></g>
<g fill="none" stroke-linecap="butt"><path d="M435.6,307.6 L459.0,315.2" stroke="#6a665c" stroke-width="3.8"/><path d="M459.0,315.2 L475.0,320.4" stroke="#9c0606" stroke-width="3.8"/><path d="M435.6,307.6 L459.0,315.2" stroke="#cfccc0" stroke-width="2.3"/><path d="M459.0,315.2 L475.0,320.4" stroke="#f41a1a" stroke-width="2.3"/></g>
<g fill="none" stroke-linecap="butt"><path d="M350.0,310.4 L320.1,321.6" stroke="#6a665c" stroke-width="3.8"/><path d="M320.1,321.6 L300.0,329.2" stroke="#6a665c" stroke-width="3.8"/><path d="M350.0,310.4 L320.1,321.6" stroke="#cfccc0" stroke-width="2.3"/><path d="M320.1,321.6 L300.0,329.2" stroke="#cfccc0" stroke-width="2.3"/></g>
<circle cx="350" cy="310.4" r="10.4" fill="url(#gW)" stroke="#1a1815" stroke-opacity="0.45" stroke-width="0.6"/>
<circle cx="417.3" cy="311.8" r="10.4" fill="url(#gW)" stroke="#1a1815" stroke-opacity="0.45" stroke-width="0.6"/>
<circle cx="384.6" cy="375.3" r="10.4" fill="url(#gW)" stroke="#1a1815" stroke-opacity="0.45" stroke-width="0.6"/>
<circle cx="484.5" cy="356.7" r="10.4" fill="url(#gW)" stroke="#1a1815" stroke-opacity="0.45" stroke-width="0.6"/>
<circle cx="550.2" cy="328.2" r="10.4" fill="url(#gW)" stroke="#1a1815" stroke-opacity="0.45" stroke-width="0.6"/>
<circle cx="597.8" cy="369.4" r="10.4" fill="url(#gW)" stroke="#1a1815" stroke-opacity="0.45" stroke-width="0.6"/>
<circle cx="625.8" cy="311.6" r="10.4" fill="url(#gW)" stroke="#1a1815" stroke-opacity="0.45" stroke-width="0.6"/>
<circle cx="435.6" cy="307.6" r="10.2" fill="url(#gWd)" stroke="#1a1815" stroke-opacity="0.45" stroke-width="0.6"/>
<g fill="none" stroke-linecap="butt"><path d="M344.9,307.8 L343.2,306.9" stroke="#6a665c" stroke-width="3.8"/><path d="M343.2,306.9 L336.4,303.5" stroke="#9c0606" stroke-width="3.8"/><path d="M344.9,307.8 L343.2,306.9" stroke="#cfccc0" stroke-width="2.3"/><path d="M343.2,306.9 L336.4,303.5" stroke="#f41a1a" stroke-width="2.3"/></g>
<circle cx="336.4" cy="303.5" r="5.2" fill="url(#gO)" stroke="#1a1815" stroke-opacity="0.45" stroke-width="0.6"/>
<circle cx="412.7" cy="312.5" r="5.2" fill="url(#gO)" stroke="#1a1815" stroke-opacity="0.45" stroke-width="0.6"/>
<circle cx="378.3" cy="374" r="5.2" fill="url(#gO)" stroke="#1a1815" stroke-opacity="0.45" stroke-width="0.6"/>
<circle cx="477.3" cy="357" r="5.2" fill="url(#gO)" stroke="#1a1815" stroke-opacity="0.45" stroke-width="0.6"/>
<circle cx="544.5" cy="322.2" r="5.2" fill="url(#gO)" stroke="#1a1815" stroke-opacity="0.45" stroke-width="0.6"/>
<circle cx="610.7" cy="305.4" r="5.2" fill="url(#gO)" stroke="#1a1815" stroke-opacity="0.45" stroke-width="0.6"/>
<circle cx="591.3" cy="371.8" r="5.2" fill="url(#gO)" stroke="#1a1815" stroke-opacity="0.45" stroke-width="0.6"/>
</g>
<rect x="479.4" y="380.0" width="158.60000000000002" height="18.399999999999977" fill="#fff" stroke="#8a8a8a" stroke-width="0.7"/>
<circle cx="488.2" cy="389.1" r="6.5" fill="url(#gW)"/>
<text x="496.5" y="394.4" font-size="13.1" fill="#000" stroke="#000" stroke-width="0.25" text-anchor="start" >W</text>
<circle cx="521.8" cy="389.1" r="5.8" fill="url(#gO)"/>
<text x="529.6" y="394.4" font-size="13.1" fill="#000" stroke="#000" stroke-width="0.25" text-anchor="start" >O</text>
<circle cx="552.9" cy="389.1" r="6.3" fill="url(#gFe)"/>
<text x="561.4" y="394.4" font-size="13.1" fill="#000" stroke="#000" stroke-width="0.25" text-anchor="start" >Fe</text>
<circle cx="588.2" cy="389.1" r="6.0" fill="url(#gP)"/>
<text x="596.8" y="394.4" font-size="13.1" fill="#000" stroke="#000" stroke-width="0.25" text-anchor="start" >P</text>
<circle cx="617.4" cy="389.1" r="5.8" fill="url(#gN)"/>
<text x="626.5" y="394.4" font-size="13.1" fill="#000" stroke="#000" stroke-width="0.25" text-anchor="start" >N</text>
<rect x="322.6" y="243.7" width="315.4" height="155" rx="1" fill="none" stroke="#1e1e1e" stroke-width="1.35"/>
<text x="325.2" y="265.7" font-size="27.3" fill="#000" stroke="#000" stroke-width="0" text-anchor="start" >d</text>
<text x="528" y="268.2" font-size="17.6" fill="#c00808" stroke="#c00808" stroke-width="0" text-anchor="start" >N-N: 1.39 &#197;</text>
</svg>
</body></html>
